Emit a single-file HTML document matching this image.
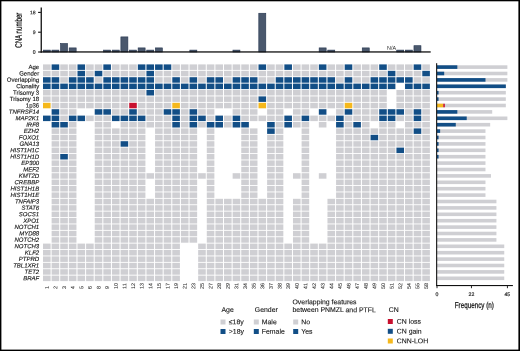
<!DOCTYPE html>
<html><head><meta charset="utf-8"><title>Figure</title>
<style>html,body{margin:0;padding:0;background:#fff;}body{width:520px;height:351px;position:relative;overflow:hidden;font-family:"Liberation Sans",sans-serif;}</style></head>
<body>
<svg width="520" height="351" viewBox="0 0 520 351" style="position:absolute;left:0;top:0;will-change:transform;text-rendering:geometricPrecision" font-family="Liberation Sans, sans-serif">
<rect x="0" y="0" width="520" height="351" fill="#fff"/>
<rect x="43.00" y="64.40" width="7.6" height="5.5" fill="#cfcfd3"/>
<rect x="51.62" y="64.40" width="7.6" height="5.5" fill="#124e86"/>
<rect x="60.24" y="64.40" width="7.6" height="5.5" fill="#cfcfd3"/>
<rect x="68.86" y="64.40" width="7.6" height="5.5" fill="#cfcfd3"/>
<rect x="77.48" y="64.40" width="7.6" height="5.5" fill="#124e86"/>
<rect x="86.10" y="64.40" width="7.6" height="5.5" fill="#cfcfd3"/>
<rect x="94.72" y="64.40" width="7.6" height="5.5" fill="#cfcfd3"/>
<rect x="103.34" y="64.40" width="7.6" height="5.5" fill="#124e86"/>
<rect x="111.96" y="64.40" width="7.6" height="5.5" fill="#cfcfd3"/>
<rect x="120.58" y="64.40" width="7.6" height="5.5" fill="#cfcfd3"/>
<rect x="129.20" y="64.40" width="7.6" height="5.5" fill="#cfcfd3"/>
<rect x="137.82" y="64.40" width="7.6" height="5.5" fill="#124e86"/>
<rect x="146.44" y="64.40" width="7.6" height="5.5" fill="#124e86"/>
<rect x="155.06" y="64.40" width="7.6" height="5.5" fill="#124e86"/>
<rect x="163.68" y="64.40" width="7.6" height="5.5" fill="#124e86"/>
<rect x="172.30" y="64.40" width="7.6" height="5.5" fill="#cfcfd3"/>
<rect x="180.92" y="64.40" width="7.6" height="5.5" fill="#cfcfd3"/>
<rect x="189.54" y="64.40" width="7.6" height="5.5" fill="#cfcfd3"/>
<rect x="198.16" y="64.40" width="7.6" height="5.5" fill="#cfcfd3"/>
<rect x="206.78" y="64.40" width="7.6" height="5.5" fill="#cfcfd3"/>
<rect x="215.40" y="64.40" width="7.6" height="5.5" fill="#cfcfd3"/>
<rect x="224.02" y="64.40" width="7.6" height="5.5" fill="#cfcfd3"/>
<rect x="232.64" y="64.40" width="7.6" height="5.5" fill="#cfcfd3"/>
<rect x="241.26" y="64.40" width="7.6" height="5.5" fill="#cfcfd3"/>
<rect x="249.88" y="64.40" width="7.6" height="5.5" fill="#cfcfd3"/>
<rect x="258.50" y="64.40" width="7.6" height="5.5" fill="#124e86"/>
<rect x="267.12" y="64.40" width="7.6" height="5.5" fill="#cfcfd3"/>
<rect x="275.74" y="64.40" width="7.6" height="5.5" fill="#cfcfd3"/>
<rect x="284.36" y="64.40" width="7.6" height="5.5" fill="#124e86"/>
<rect x="292.98" y="64.40" width="7.6" height="5.5" fill="#cfcfd3"/>
<rect x="301.60" y="64.40" width="7.6" height="5.5" fill="#cfcfd3"/>
<rect x="310.22" y="64.40" width="7.6" height="5.5" fill="#cfcfd3"/>
<rect x="318.84" y="64.40" width="7.6" height="5.5" fill="#124e86"/>
<rect x="327.46" y="64.40" width="7.6" height="5.5" fill="#cfcfd3"/>
<rect x="336.08" y="64.40" width="7.6" height="5.5" fill="#cfcfd3"/>
<rect x="344.70" y="64.40" width="7.6" height="5.5" fill="#124e86"/>
<rect x="353.32" y="64.40" width="7.6" height="5.5" fill="#cfcfd3"/>
<rect x="361.94" y="64.40" width="7.6" height="5.5" fill="#cfcfd3"/>
<rect x="370.56" y="64.40" width="7.6" height="5.5" fill="#cfcfd3"/>
<rect x="379.18" y="64.40" width="7.6" height="5.5" fill="#124e86"/>
<rect x="387.80" y="64.40" width="7.6" height="5.5" fill="#cfcfd3"/>
<rect x="396.42" y="64.40" width="7.6" height="5.5" fill="#cfcfd3"/>
<rect x="405.04" y="64.40" width="7.6" height="5.5" fill="#cfcfd3"/>
<rect x="413.66" y="64.40" width="7.6" height="5.5" fill="#124e86"/>
<rect x="422.28" y="64.40" width="7.6" height="5.5" fill="#cfcfd3"/>
<rect x="43.00" y="70.80" width="7.6" height="5.5" fill="#cfcfd3"/>
<rect x="51.62" y="70.80" width="7.6" height="5.5" fill="#cfcfd3"/>
<rect x="60.24" y="70.80" width="7.6" height="5.5" fill="#cfcfd3"/>
<rect x="68.86" y="70.80" width="7.6" height="5.5" fill="#cfcfd3"/>
<rect x="77.48" y="70.80" width="7.6" height="5.5" fill="#124e86"/>
<rect x="86.10" y="70.80" width="7.6" height="5.5" fill="#cfcfd3"/>
<rect x="94.72" y="70.80" width="7.6" height="5.5" fill="#124e86"/>
<rect x="103.34" y="70.80" width="7.6" height="5.5" fill="#cfcfd3"/>
<rect x="111.96" y="70.80" width="7.6" height="5.5" fill="#cfcfd3"/>
<rect x="120.58" y="70.80" width="7.6" height="5.5" fill="#cfcfd3"/>
<rect x="129.20" y="70.80" width="7.6" height="5.5" fill="#cfcfd3"/>
<rect x="137.82" y="70.80" width="7.6" height="5.5" fill="#cfcfd3"/>
<rect x="146.44" y="70.80" width="7.6" height="5.5" fill="#124e86"/>
<rect x="155.06" y="70.80" width="7.6" height="5.5" fill="#cfcfd3"/>
<rect x="163.68" y="70.80" width="7.6" height="5.5" fill="#cfcfd3"/>
<rect x="172.30" y="70.80" width="7.6" height="5.5" fill="#cfcfd3"/>
<rect x="180.92" y="70.80" width="7.6" height="5.5" fill="#cfcfd3"/>
<rect x="189.54" y="70.80" width="7.6" height="5.5" fill="#cfcfd3"/>
<rect x="198.16" y="70.80" width="7.6" height="5.5" fill="#cfcfd3"/>
<rect x="206.78" y="70.80" width="7.6" height="5.5" fill="#cfcfd3"/>
<rect x="215.40" y="70.80" width="7.6" height="5.5" fill="#cfcfd3"/>
<rect x="224.02" y="70.80" width="7.6" height="5.5" fill="#cfcfd3"/>
<rect x="232.64" y="70.80" width="7.6" height="5.5" fill="#cfcfd3"/>
<rect x="241.26" y="70.80" width="7.6" height="5.5" fill="#cfcfd3"/>
<rect x="249.88" y="70.80" width="7.6" height="5.5" fill="#cfcfd3"/>
<rect x="258.50" y="70.80" width="7.6" height="5.5" fill="#cfcfd3"/>
<rect x="267.12" y="70.80" width="7.6" height="5.5" fill="#cfcfd3"/>
<rect x="275.74" y="70.80" width="7.6" height="5.5" fill="#cfcfd3"/>
<rect x="284.36" y="70.80" width="7.6" height="5.5" fill="#cfcfd3"/>
<rect x="292.98" y="70.80" width="7.6" height="5.5" fill="#cfcfd3"/>
<rect x="301.60" y="70.80" width="7.6" height="5.5" fill="#cfcfd3"/>
<rect x="310.22" y="70.80" width="7.6" height="5.5" fill="#cfcfd3"/>
<rect x="318.84" y="70.80" width="7.6" height="5.5" fill="#cfcfd3"/>
<rect x="327.46" y="70.80" width="7.6" height="5.5" fill="#cfcfd3"/>
<rect x="336.08" y="70.80" width="7.6" height="5.5" fill="#cfcfd3"/>
<rect x="344.70" y="70.80" width="7.6" height="5.5" fill="#cfcfd3"/>
<rect x="353.32" y="70.80" width="7.6" height="5.5" fill="#cfcfd3"/>
<rect x="361.94" y="70.80" width="7.6" height="5.5" fill="#cfcfd3"/>
<rect x="370.56" y="70.80" width="7.6" height="5.5" fill="#cfcfd3"/>
<rect x="379.18" y="70.80" width="7.6" height="5.5" fill="#cfcfd3"/>
<rect x="387.80" y="70.80" width="7.6" height="5.5" fill="#124e86"/>
<rect x="396.42" y="70.80" width="7.6" height="5.5" fill="#cfcfd3"/>
<rect x="405.04" y="70.80" width="7.6" height="5.5" fill="#cfcfd3"/>
<rect x="413.66" y="70.80" width="7.6" height="5.5" fill="#cfcfd3"/>
<rect x="422.28" y="70.80" width="7.6" height="5.5" fill="#124e86"/>
<rect x="43.00" y="77.20" width="7.6" height="5.5" fill="#124e86"/>
<rect x="51.62" y="77.20" width="7.6" height="5.5" fill="#124e86"/>
<rect x="60.24" y="77.20" width="7.6" height="5.5" fill="#cfcfd3"/>
<rect x="68.86" y="77.20" width="7.6" height="5.5" fill="#124e86"/>
<rect x="77.48" y="77.20" width="7.6" height="5.5" fill="#124e86"/>
<rect x="86.10" y="77.20" width="7.6" height="5.5" fill="#124e86"/>
<rect x="94.72" y="77.20" width="7.6" height="5.5" fill="#cfcfd3"/>
<rect x="103.34" y="77.20" width="7.6" height="5.5" fill="#124e86"/>
<rect x="111.96" y="77.20" width="7.6" height="5.5" fill="#124e86"/>
<rect x="120.58" y="77.20" width="7.6" height="5.5" fill="#124e86"/>
<rect x="129.20" y="77.20" width="7.6" height="5.5" fill="#124e86"/>
<rect x="137.82" y="77.20" width="7.6" height="5.5" fill="#124e86"/>
<rect x="146.44" y="77.20" width="7.6" height="5.5" fill="#124e86"/>
<rect x="155.06" y="77.20" width="7.6" height="5.5" fill="#cfcfd3"/>
<rect x="163.68" y="77.20" width="7.6" height="5.5" fill="#cfcfd3"/>
<rect x="172.30" y="77.20" width="7.6" height="5.5" fill="#124e86"/>
<rect x="180.92" y="77.20" width="7.6" height="5.5" fill="#cfcfd3"/>
<rect x="189.54" y="77.20" width="7.6" height="5.5" fill="#124e86"/>
<rect x="198.16" y="77.20" width="7.6" height="5.5" fill="#cfcfd3"/>
<rect x="206.78" y="77.20" width="7.6" height="5.5" fill="#124e86"/>
<rect x="215.40" y="77.20" width="7.6" height="5.5" fill="#124e86"/>
<rect x="224.02" y="77.20" width="7.6" height="5.5" fill="#cfcfd3"/>
<rect x="232.64" y="77.20" width="7.6" height="5.5" fill="#124e86"/>
<rect x="241.26" y="77.20" width="7.6" height="5.5" fill="#124e86"/>
<rect x="249.88" y="77.20" width="7.6" height="5.5" fill="#124e86"/>
<rect x="258.50" y="77.20" width="7.6" height="5.5" fill="#cfcfd3"/>
<rect x="267.12" y="77.20" width="7.6" height="5.5" fill="#cfcfd3"/>
<rect x="275.74" y="77.20" width="7.6" height="5.5" fill="#124e86"/>
<rect x="284.36" y="77.20" width="7.6" height="5.5" fill="#124e86"/>
<rect x="292.98" y="77.20" width="7.6" height="5.5" fill="#124e86"/>
<rect x="301.60" y="77.20" width="7.6" height="5.5" fill="#124e86"/>
<rect x="310.22" y="77.20" width="7.6" height="5.5" fill="#124e86"/>
<rect x="318.84" y="77.20" width="7.6" height="5.5" fill="#124e86"/>
<rect x="327.46" y="77.20" width="7.6" height="5.5" fill="#124e86"/>
<rect x="336.08" y="77.20" width="7.6" height="5.5" fill="#cfcfd3"/>
<rect x="344.70" y="77.20" width="7.6" height="5.5" fill="#124e86"/>
<rect x="353.32" y="77.20" width="7.6" height="5.5" fill="#cfcfd3"/>
<rect x="361.94" y="77.20" width="7.6" height="5.5" fill="#cfcfd3"/>
<rect x="370.56" y="77.20" width="7.6" height="5.5" fill="#124e86"/>
<rect x="379.18" y="77.20" width="7.6" height="5.5" fill="#124e86"/>
<rect x="387.80" y="77.20" width="7.6" height="5.5" fill="#124e86"/>
<rect x="396.42" y="77.20" width="7.6" height="5.5" fill="#124e86"/>
<rect x="405.04" y="77.20" width="7.6" height="5.5" fill="#124e86"/>
<rect x="413.66" y="77.20" width="7.6" height="5.5" fill="#cfcfd3"/>
<rect x="422.28" y="77.20" width="7.6" height="5.5" fill="#cfcfd3"/>
<rect x="43.00" y="83.60" width="7.6" height="5.5" fill="#124e86"/>
<rect x="51.62" y="83.60" width="7.6" height="5.5" fill="#124e86"/>
<rect x="60.24" y="83.60" width="7.6" height="5.5" fill="#124e86"/>
<rect x="68.86" y="83.60" width="7.6" height="5.5" fill="#124e86"/>
<rect x="77.48" y="83.60" width="7.6" height="5.5" fill="#124e86"/>
<rect x="86.10" y="83.60" width="7.6" height="5.5" fill="#124e86"/>
<rect x="94.72" y="83.60" width="7.6" height="5.5" fill="#124e86"/>
<rect x="103.34" y="83.60" width="7.6" height="5.5" fill="#124e86"/>
<rect x="111.96" y="83.60" width="7.6" height="5.5" fill="#124e86"/>
<rect x="120.58" y="83.60" width="7.6" height="5.5" fill="#124e86"/>
<rect x="129.20" y="83.60" width="7.6" height="5.5" fill="#124e86"/>
<rect x="137.82" y="83.60" width="7.6" height="5.5" fill="#124e86"/>
<rect x="146.44" y="83.60" width="7.6" height="5.5" fill="#124e86"/>
<rect x="155.06" y="83.60" width="7.6" height="5.5" fill="#124e86"/>
<rect x="163.68" y="83.60" width="7.6" height="5.5" fill="#124e86"/>
<rect x="172.30" y="83.60" width="7.6" height="5.5" fill="#124e86"/>
<rect x="180.92" y="83.60" width="7.6" height="5.5" fill="#124e86"/>
<rect x="189.54" y="83.60" width="7.6" height="5.5" fill="#124e86"/>
<rect x="198.16" y="83.60" width="7.6" height="5.5" fill="#124e86"/>
<rect x="206.78" y="83.60" width="7.6" height="5.5" fill="#124e86"/>
<rect x="215.40" y="83.60" width="7.6" height="5.5" fill="#124e86"/>
<rect x="224.02" y="83.60" width="7.6" height="5.5" fill="#124e86"/>
<rect x="232.64" y="83.60" width="7.6" height="5.5" fill="#124e86"/>
<rect x="241.26" y="83.60" width="7.6" height="5.5" fill="#124e86"/>
<rect x="249.88" y="83.60" width="7.6" height="5.5" fill="#124e86"/>
<rect x="258.50" y="83.60" width="7.6" height="5.5" fill="#124e86"/>
<rect x="267.12" y="83.60" width="7.6" height="5.5" fill="#124e86"/>
<rect x="275.74" y="83.60" width="7.6" height="5.5" fill="#124e86"/>
<rect x="284.36" y="83.60" width="7.6" height="5.5" fill="#124e86"/>
<rect x="292.98" y="83.60" width="7.6" height="5.5" fill="#124e86"/>
<rect x="301.60" y="83.60" width="7.6" height="5.5" fill="#124e86"/>
<rect x="310.22" y="83.60" width="7.6" height="5.5" fill="#124e86"/>
<rect x="318.84" y="83.60" width="7.6" height="5.5" fill="#124e86"/>
<rect x="327.46" y="83.60" width="7.6" height="5.5" fill="#124e86"/>
<rect x="336.08" y="83.60" width="7.6" height="5.5" fill="#124e86"/>
<rect x="344.70" y="83.60" width="7.6" height="5.5" fill="#124e86"/>
<rect x="353.32" y="83.60" width="7.6" height="5.5" fill="#124e86"/>
<rect x="361.94" y="83.60" width="7.6" height="5.5" fill="#124e86"/>
<rect x="370.56" y="83.60" width="7.6" height="5.5" fill="#124e86"/>
<rect x="379.18" y="83.60" width="7.6" height="5.5" fill="#124e86"/>
<rect x="387.80" y="83.60" width="7.6" height="5.5" fill="#124e86"/>
<rect x="405.04" y="83.60" width="7.6" height="5.5" fill="#124e86"/>
<rect x="413.66" y="83.60" width="7.6" height="5.5" fill="#124e86"/>
<rect x="422.28" y="83.60" width="7.6" height="5.5" fill="#124e86"/>
<rect x="43.00" y="90.00" width="7.6" height="5.5" fill="#cfcfd3"/>
<rect x="51.62" y="90.00" width="7.6" height="5.5" fill="#cfcfd3"/>
<rect x="60.24" y="90.00" width="7.6" height="5.5" fill="#cfcfd3"/>
<rect x="68.86" y="90.00" width="7.6" height="5.5" fill="#cfcfd3"/>
<rect x="77.48" y="90.00" width="7.6" height="5.5" fill="#cfcfd3"/>
<rect x="86.10" y="90.00" width="7.6" height="5.5" fill="#cfcfd3"/>
<rect x="94.72" y="90.00" width="7.6" height="5.5" fill="#cfcfd3"/>
<rect x="103.34" y="90.00" width="7.6" height="5.5" fill="#cfcfd3"/>
<rect x="111.96" y="90.00" width="7.6" height="5.5" fill="#cfcfd3"/>
<rect x="120.58" y="90.00" width="7.6" height="5.5" fill="#cfcfd3"/>
<rect x="129.20" y="90.00" width="7.6" height="5.5" fill="#cfcfd3"/>
<rect x="137.82" y="90.00" width="7.6" height="5.5" fill="#cfcfd3"/>
<rect x="146.44" y="90.00" width="7.6" height="5.5" fill="#124e86"/>
<rect x="155.06" y="90.00" width="7.6" height="5.5" fill="#cfcfd3"/>
<rect x="163.68" y="90.00" width="7.6" height="5.5" fill="#cfcfd3"/>
<rect x="172.30" y="90.00" width="7.6" height="5.5" fill="#cfcfd3"/>
<rect x="180.92" y="90.00" width="7.6" height="5.5" fill="#cfcfd3"/>
<rect x="189.54" y="90.00" width="7.6" height="5.5" fill="#cfcfd3"/>
<rect x="198.16" y="90.00" width="7.6" height="5.5" fill="#cfcfd3"/>
<rect x="206.78" y="90.00" width="7.6" height="5.5" fill="#cfcfd3"/>
<rect x="215.40" y="90.00" width="7.6" height="5.5" fill="#cfcfd3"/>
<rect x="224.02" y="90.00" width="7.6" height="5.5" fill="#cfcfd3"/>
<rect x="232.64" y="90.00" width="7.6" height="5.5" fill="#cfcfd3"/>
<rect x="241.26" y="90.00" width="7.6" height="5.5" fill="#cfcfd3"/>
<rect x="249.88" y="90.00" width="7.6" height="5.5" fill="#cfcfd3"/>
<rect x="258.50" y="90.00" width="7.6" height="5.5" fill="#cfcfd3"/>
<rect x="267.12" y="90.00" width="7.6" height="5.5" fill="#cfcfd3"/>
<rect x="275.74" y="90.00" width="7.6" height="5.5" fill="#cfcfd3"/>
<rect x="284.36" y="90.00" width="7.6" height="5.5" fill="#cfcfd3"/>
<rect x="292.98" y="90.00" width="7.6" height="5.5" fill="#cfcfd3"/>
<rect x="301.60" y="90.00" width="7.6" height="5.5" fill="#cfcfd3"/>
<rect x="310.22" y="90.00" width="7.6" height="5.5" fill="#cfcfd3"/>
<rect x="318.84" y="90.00" width="7.6" height="5.5" fill="#cfcfd3"/>
<rect x="327.46" y="90.00" width="7.6" height="5.5" fill="#cfcfd3"/>
<rect x="336.08" y="90.00" width="7.6" height="5.5" fill="#cfcfd3"/>
<rect x="344.70" y="90.00" width="7.6" height="5.5" fill="#cfcfd3"/>
<rect x="353.32" y="90.00" width="7.6" height="5.5" fill="#cfcfd3"/>
<rect x="361.94" y="90.00" width="7.6" height="5.5" fill="#cfcfd3"/>
<rect x="370.56" y="90.00" width="7.6" height="5.5" fill="#cfcfd3"/>
<rect x="379.18" y="90.00" width="7.6" height="5.5" fill="#cfcfd3"/>
<rect x="396.42" y="90.00" width="7.6" height="5.5" fill="#cfcfd3"/>
<rect x="405.04" y="90.00" width="7.6" height="5.5" fill="#cfcfd3"/>
<rect x="413.66" y="90.00" width="7.6" height="5.5" fill="#cfcfd3"/>
<rect x="422.28" y="90.00" width="7.6" height="5.5" fill="#cfcfd3"/>
<rect x="43.00" y="96.40" width="7.6" height="5.5" fill="#cfcfd3"/>
<rect x="51.62" y="96.40" width="7.6" height="5.5" fill="#cfcfd3"/>
<rect x="60.24" y="96.40" width="7.6" height="5.5" fill="#cfcfd3"/>
<rect x="68.86" y="96.40" width="7.6" height="5.5" fill="#cfcfd3"/>
<rect x="77.48" y="96.40" width="7.6" height="5.5" fill="#cfcfd3"/>
<rect x="86.10" y="96.40" width="7.6" height="5.5" fill="#cfcfd3"/>
<rect x="94.72" y="96.40" width="7.6" height="5.5" fill="#cfcfd3"/>
<rect x="103.34" y="96.40" width="7.6" height="5.5" fill="#cfcfd3"/>
<rect x="111.96" y="96.40" width="7.6" height="5.5" fill="#cfcfd3"/>
<rect x="120.58" y="96.40" width="7.6" height="5.5" fill="#cfcfd3"/>
<rect x="129.20" y="96.40" width="7.6" height="5.5" fill="#cfcfd3"/>
<rect x="137.82" y="96.40" width="7.6" height="5.5" fill="#cfcfd3"/>
<rect x="146.44" y="96.40" width="7.6" height="5.5" fill="#cfcfd3"/>
<rect x="155.06" y="96.40" width="7.6" height="5.5" fill="#cfcfd3"/>
<rect x="163.68" y="96.40" width="7.6" height="5.5" fill="#cfcfd3"/>
<rect x="172.30" y="96.40" width="7.6" height="5.5" fill="#cfcfd3"/>
<rect x="180.92" y="96.40" width="7.6" height="5.5" fill="#cfcfd3"/>
<rect x="189.54" y="96.40" width="7.6" height="5.5" fill="#cfcfd3"/>
<rect x="198.16" y="96.40" width="7.6" height="5.5" fill="#cfcfd3"/>
<rect x="206.78" y="96.40" width="7.6" height="5.5" fill="#cfcfd3"/>
<rect x="215.40" y="96.40" width="7.6" height="5.5" fill="#cfcfd3"/>
<rect x="224.02" y="96.40" width="7.6" height="5.5" fill="#cfcfd3"/>
<rect x="232.64" y="96.40" width="7.6" height="5.5" fill="#cfcfd3"/>
<rect x="241.26" y="96.40" width="7.6" height="5.5" fill="#cfcfd3"/>
<rect x="249.88" y="96.40" width="7.6" height="5.5" fill="#cfcfd3"/>
<rect x="258.50" y="96.40" width="7.6" height="5.5" fill="#124e86"/>
<rect x="267.12" y="96.40" width="7.6" height="5.5" fill="#cfcfd3"/>
<rect x="275.74" y="96.40" width="7.6" height="5.5" fill="#cfcfd3"/>
<rect x="284.36" y="96.40" width="7.6" height="5.5" fill="#cfcfd3"/>
<rect x="292.98" y="96.40" width="7.6" height="5.5" fill="#cfcfd3"/>
<rect x="301.60" y="96.40" width="7.6" height="5.5" fill="#cfcfd3"/>
<rect x="310.22" y="96.40" width="7.6" height="5.5" fill="#cfcfd3"/>
<rect x="318.84" y="96.40" width="7.6" height="5.5" fill="#cfcfd3"/>
<rect x="327.46" y="96.40" width="7.6" height="5.5" fill="#cfcfd3"/>
<rect x="336.08" y="96.40" width="7.6" height="5.5" fill="#cfcfd3"/>
<rect x="344.70" y="96.40" width="7.6" height="5.5" fill="#cfcfd3"/>
<rect x="353.32" y="96.40" width="7.6" height="5.5" fill="#cfcfd3"/>
<rect x="361.94" y="96.40" width="7.6" height="5.5" fill="#cfcfd3"/>
<rect x="370.56" y="96.40" width="7.6" height="5.5" fill="#cfcfd3"/>
<rect x="379.18" y="96.40" width="7.6" height="5.5" fill="#cfcfd3"/>
<rect x="396.42" y="96.40" width="7.6" height="5.5" fill="#cfcfd3"/>
<rect x="405.04" y="96.40" width="7.6" height="5.5" fill="#cfcfd3"/>
<rect x="413.66" y="96.40" width="7.6" height="5.5" fill="#cfcfd3"/>
<rect x="422.28" y="96.40" width="7.6" height="5.5" fill="#cfcfd3"/>
<rect x="43.00" y="102.80" width="7.6" height="5.5" fill="#f5b81c"/>
<rect x="51.62" y="102.80" width="7.6" height="5.5" fill="#cfcfd3"/>
<rect x="60.24" y="102.80" width="7.6" height="5.5" fill="#cfcfd3"/>
<rect x="68.86" y="102.80" width="7.6" height="5.5" fill="#cfcfd3"/>
<rect x="77.48" y="102.80" width="7.6" height="5.5" fill="#cfcfd3"/>
<rect x="86.10" y="102.80" width="7.6" height="5.5" fill="#cfcfd3"/>
<rect x="94.72" y="102.80" width="7.6" height="5.5" fill="#cfcfd3"/>
<rect x="103.34" y="102.80" width="7.6" height="5.5" fill="#cfcfd3"/>
<rect x="111.96" y="102.80" width="7.6" height="5.5" fill="#cfcfd3"/>
<rect x="120.58" y="102.80" width="7.6" height="5.5" fill="#cfcfd3"/>
<rect x="129.20" y="102.80" width="7.6" height="5.5" fill="#c8102e"/>
<rect x="137.82" y="102.80" width="7.6" height="5.5" fill="#cfcfd3"/>
<rect x="146.44" y="102.80" width="7.6" height="5.5" fill="#cfcfd3"/>
<rect x="155.06" y="102.80" width="7.6" height="5.5" fill="#cfcfd3"/>
<rect x="163.68" y="102.80" width="7.6" height="5.5" fill="#cfcfd3"/>
<rect x="172.30" y="102.80" width="7.6" height="5.5" fill="#f5b81c"/>
<rect x="180.92" y="102.80" width="7.6" height="5.5" fill="#cfcfd3"/>
<rect x="189.54" y="102.80" width="7.6" height="5.5" fill="#cfcfd3"/>
<rect x="198.16" y="102.80" width="7.6" height="5.5" fill="#cfcfd3"/>
<rect x="206.78" y="102.80" width="7.6" height="5.5" fill="#cfcfd3"/>
<rect x="215.40" y="102.80" width="7.6" height="5.5" fill="#cfcfd3"/>
<rect x="224.02" y="102.80" width="7.6" height="5.5" fill="#cfcfd3"/>
<rect x="232.64" y="102.80" width="7.6" height="5.5" fill="#cfcfd3"/>
<rect x="241.26" y="102.80" width="7.6" height="5.5" fill="#cfcfd3"/>
<rect x="249.88" y="102.80" width="7.6" height="5.5" fill="#cfcfd3"/>
<rect x="258.50" y="102.80" width="7.6" height="5.5" fill="#f5b81c"/>
<rect x="267.12" y="102.80" width="7.6" height="5.5" fill="#cfcfd3"/>
<rect x="275.74" y="102.80" width="7.6" height="5.5" fill="#cfcfd3"/>
<rect x="284.36" y="102.80" width="7.6" height="5.5" fill="#cfcfd3"/>
<rect x="292.98" y="102.80" width="7.6" height="5.5" fill="#cfcfd3"/>
<rect x="301.60" y="102.80" width="7.6" height="5.5" fill="#cfcfd3"/>
<rect x="310.22" y="102.80" width="7.6" height="5.5" fill="#cfcfd3"/>
<rect x="318.84" y="102.80" width="7.6" height="5.5" fill="#cfcfd3"/>
<rect x="327.46" y="102.80" width="7.6" height="5.5" fill="#cfcfd3"/>
<rect x="336.08" y="102.80" width="7.6" height="5.5" fill="#cfcfd3"/>
<rect x="344.70" y="102.80" width="7.6" height="5.5" fill="#f5b81c"/>
<rect x="353.32" y="102.80" width="7.6" height="5.5" fill="#cfcfd3"/>
<rect x="361.94" y="102.80" width="7.6" height="5.5" fill="#cfcfd3"/>
<rect x="370.56" y="102.80" width="7.6" height="5.5" fill="#cfcfd3"/>
<rect x="379.18" y="102.80" width="7.6" height="5.5" fill="#cfcfd3"/>
<rect x="396.42" y="102.80" width="7.6" height="5.5" fill="#cfcfd3"/>
<rect x="405.04" y="102.80" width="7.6" height="5.5" fill="#cfcfd3"/>
<rect x="413.66" y="102.80" width="7.6" height="5.5" fill="#cfcfd3"/>
<rect x="422.28" y="102.80" width="7.6" height="5.5" fill="#cfcfd3"/>
<rect x="51.62" y="109.20" width="7.6" height="5.5" fill="#124e86"/>
<rect x="60.24" y="109.20" width="7.6" height="5.5" fill="#cfcfd3"/>
<rect x="68.86" y="109.20" width="7.6" height="5.5" fill="#cfcfd3"/>
<rect x="94.72" y="109.20" width="7.6" height="5.5" fill="#124e86"/>
<rect x="103.34" y="109.20" width="7.6" height="5.5" fill="#124e86"/>
<rect x="111.96" y="109.20" width="7.6" height="5.5" fill="#cfcfd3"/>
<rect x="120.58" y="109.20" width="7.6" height="5.5" fill="#cfcfd3"/>
<rect x="129.20" y="109.20" width="7.6" height="5.5" fill="#124e86"/>
<rect x="137.82" y="109.20" width="7.6" height="5.5" fill="#cfcfd3"/>
<rect x="146.44" y="109.20" width="7.6" height="5.5" fill="#cfcfd3"/>
<rect x="155.06" y="109.20" width="7.6" height="5.5" fill="#cfcfd3"/>
<rect x="163.68" y="109.20" width="7.6" height="5.5" fill="#124e86"/>
<rect x="172.30" y="109.20" width="7.6" height="5.5" fill="#124e86"/>
<rect x="180.92" y="109.20" width="7.6" height="5.5" fill="#cfcfd3"/>
<rect x="189.54" y="109.20" width="7.6" height="5.5" fill="#124e86"/>
<rect x="198.16" y="109.20" width="7.6" height="5.5" fill="#cfcfd3"/>
<rect x="206.78" y="109.20" width="7.6" height="5.5" fill="#cfcfd3"/>
<rect x="232.64" y="109.20" width="7.6" height="5.5" fill="#cfcfd3"/>
<rect x="241.26" y="109.20" width="7.6" height="5.5" fill="#cfcfd3"/>
<rect x="249.88" y="109.20" width="7.6" height="5.5" fill="#cfcfd3"/>
<rect x="267.12" y="109.20" width="7.6" height="5.5" fill="#cfcfd3"/>
<rect x="275.74" y="109.20" width="7.6" height="5.5" fill="#cfcfd3"/>
<rect x="292.98" y="109.20" width="7.6" height="5.5" fill="#cfcfd3"/>
<rect x="301.60" y="109.20" width="7.6" height="5.5" fill="#cfcfd3"/>
<rect x="318.84" y="109.20" width="7.6" height="5.5" fill="#124e86"/>
<rect x="336.08" y="109.20" width="7.6" height="5.5" fill="#cfcfd3"/>
<rect x="344.70" y="109.20" width="7.6" height="5.5" fill="#124e86"/>
<rect x="353.32" y="109.20" width="7.6" height="5.5" fill="#cfcfd3"/>
<rect x="361.94" y="109.20" width="7.6" height="5.5" fill="#cfcfd3"/>
<rect x="370.56" y="109.20" width="7.6" height="5.5" fill="#cfcfd3"/>
<rect x="379.18" y="109.20" width="7.6" height="5.5" fill="#124e86"/>
<rect x="387.80" y="109.20" width="7.6" height="5.5" fill="#124e86"/>
<rect x="396.42" y="109.20" width="7.6" height="5.5" fill="#124e86"/>
<rect x="405.04" y="109.20" width="7.6" height="5.5" fill="#cfcfd3"/>
<rect x="413.66" y="109.20" width="7.6" height="5.5" fill="#124e86"/>
<rect x="422.28" y="109.20" width="7.6" height="5.5" fill="#cfcfd3"/>
<rect x="43.00" y="115.60" width="7.6" height="5.5" fill="#124e86"/>
<rect x="51.62" y="115.60" width="7.6" height="5.5" fill="#124e86"/>
<rect x="60.24" y="115.60" width="7.6" height="5.5" fill="#cfcfd3"/>
<rect x="68.86" y="115.60" width="7.6" height="5.5" fill="#124e86"/>
<rect x="77.48" y="115.60" width="7.6" height="5.5" fill="#124e86"/>
<rect x="86.10" y="115.60" width="7.6" height="5.5" fill="#cfcfd3"/>
<rect x="94.72" y="115.60" width="7.6" height="5.5" fill="#cfcfd3"/>
<rect x="103.34" y="115.60" width="7.6" height="5.5" fill="#cfcfd3"/>
<rect x="111.96" y="115.60" width="7.6" height="5.5" fill="#124e86"/>
<rect x="120.58" y="115.60" width="7.6" height="5.5" fill="#124e86"/>
<rect x="129.20" y="115.60" width="7.6" height="5.5" fill="#124e86"/>
<rect x="137.82" y="115.60" width="7.6" height="5.5" fill="#124e86"/>
<rect x="146.44" y="115.60" width="7.6" height="5.5" fill="#cfcfd3"/>
<rect x="155.06" y="115.60" width="7.6" height="5.5" fill="#cfcfd3"/>
<rect x="163.68" y="115.60" width="7.6" height="5.5" fill="#cfcfd3"/>
<rect x="172.30" y="115.60" width="7.6" height="5.5" fill="#124e86"/>
<rect x="180.92" y="115.60" width="7.6" height="5.5" fill="#cfcfd3"/>
<rect x="189.54" y="115.60" width="7.6" height="5.5" fill="#124e86"/>
<rect x="198.16" y="115.60" width="7.6" height="5.5" fill="#124e86"/>
<rect x="206.78" y="115.60" width="7.6" height="5.5" fill="#cfcfd3"/>
<rect x="215.40" y="115.60" width="7.6" height="5.5" fill="#124e86"/>
<rect x="224.02" y="115.60" width="7.6" height="5.5" fill="#cfcfd3"/>
<rect x="232.64" y="115.60" width="7.6" height="5.5" fill="#124e86"/>
<rect x="241.26" y="115.60" width="7.6" height="5.5" fill="#cfcfd3"/>
<rect x="249.88" y="115.60" width="7.6" height="5.5" fill="#cfcfd3"/>
<rect x="258.50" y="115.60" width="7.6" height="5.5" fill="#cfcfd3"/>
<rect x="267.12" y="115.60" width="7.6" height="5.5" fill="#cfcfd3"/>
<rect x="275.74" y="115.60" width="7.6" height="5.5" fill="#cfcfd3"/>
<rect x="284.36" y="115.60" width="7.6" height="5.5" fill="#124e86"/>
<rect x="292.98" y="115.60" width="7.6" height="5.5" fill="#cfcfd3"/>
<rect x="301.60" y="115.60" width="7.6" height="5.5" fill="#124e86"/>
<rect x="310.22" y="115.60" width="7.6" height="5.5" fill="#cfcfd3"/>
<rect x="318.84" y="115.60" width="7.6" height="5.5" fill="#cfcfd3"/>
<rect x="327.46" y="115.60" width="7.6" height="5.5" fill="#cfcfd3"/>
<rect x="336.08" y="115.60" width="7.6" height="5.5" fill="#124e86"/>
<rect x="344.70" y="115.60" width="7.6" height="5.5" fill="#cfcfd3"/>
<rect x="353.32" y="115.60" width="7.6" height="5.5" fill="#cfcfd3"/>
<rect x="361.94" y="115.60" width="7.6" height="5.5" fill="#cfcfd3"/>
<rect x="370.56" y="115.60" width="7.6" height="5.5" fill="#cfcfd3"/>
<rect x="379.18" y="115.60" width="7.6" height="5.5" fill="#124e86"/>
<rect x="387.80" y="115.60" width="7.6" height="5.5" fill="#124e86"/>
<rect x="396.42" y="115.60" width="7.6" height="5.5" fill="#cfcfd3"/>
<rect x="405.04" y="115.60" width="7.6" height="5.5" fill="#cfcfd3"/>
<rect x="413.66" y="115.60" width="7.6" height="5.5" fill="#124e86"/>
<rect x="422.28" y="115.60" width="7.6" height="5.5" fill="#cfcfd3"/>
<rect x="51.62" y="122.00" width="7.6" height="5.5" fill="#124e86"/>
<rect x="60.24" y="122.00" width="7.6" height="5.5" fill="#124e86"/>
<rect x="68.86" y="122.00" width="7.6" height="5.5" fill="#cfcfd3"/>
<rect x="94.72" y="122.00" width="7.6" height="5.5" fill="#cfcfd3"/>
<rect x="103.34" y="122.00" width="7.6" height="5.5" fill="#cfcfd3"/>
<rect x="120.58" y="122.00" width="7.6" height="5.5" fill="#cfcfd3"/>
<rect x="129.20" y="122.00" width="7.6" height="5.5" fill="#cfcfd3"/>
<rect x="137.82" y="122.00" width="7.6" height="5.5" fill="#cfcfd3"/>
<rect x="146.44" y="122.00" width="7.6" height="5.5" fill="#cfcfd3"/>
<rect x="155.06" y="122.00" width="7.6" height="5.5" fill="#cfcfd3"/>
<rect x="163.68" y="122.00" width="7.6" height="5.5" fill="#cfcfd3"/>
<rect x="172.30" y="122.00" width="7.6" height="5.5" fill="#124e86"/>
<rect x="180.92" y="122.00" width="7.6" height="5.5" fill="#cfcfd3"/>
<rect x="189.54" y="122.00" width="7.6" height="5.5" fill="#124e86"/>
<rect x="198.16" y="122.00" width="7.6" height="5.5" fill="#cfcfd3"/>
<rect x="206.78" y="122.00" width="7.6" height="5.5" fill="#124e86"/>
<rect x="215.40" y="122.00" width="7.6" height="5.5" fill="#124e86"/>
<rect x="224.02" y="122.00" width="7.6" height="5.5" fill="#cfcfd3"/>
<rect x="232.64" y="122.00" width="7.6" height="5.5" fill="#124e86"/>
<rect x="241.26" y="122.00" width="7.6" height="5.5" fill="#124e86"/>
<rect x="267.12" y="122.00" width="7.6" height="5.5" fill="#124e86"/>
<rect x="275.74" y="122.00" width="7.6" height="5.5" fill="#cfcfd3"/>
<rect x="284.36" y="122.00" width="7.6" height="5.5" fill="#124e86"/>
<rect x="292.98" y="122.00" width="7.6" height="5.5" fill="#cfcfd3"/>
<rect x="301.60" y="122.00" width="7.6" height="5.5" fill="#cfcfd3"/>
<rect x="318.84" y="122.00" width="7.6" height="5.5" fill="#cfcfd3"/>
<rect x="336.08" y="122.00" width="7.6" height="5.5" fill="#124e86"/>
<rect x="344.70" y="122.00" width="7.6" height="5.5" fill="#cfcfd3"/>
<rect x="353.32" y="122.00" width="7.6" height="5.5" fill="#124e86"/>
<rect x="361.94" y="122.00" width="7.6" height="5.5" fill="#cfcfd3"/>
<rect x="379.18" y="122.00" width="7.6" height="5.5" fill="#cfcfd3"/>
<rect x="387.80" y="122.00" width="7.6" height="5.5" fill="#cfcfd3"/>
<rect x="405.04" y="122.00" width="7.6" height="5.5" fill="#cfcfd3"/>
<rect x="413.66" y="122.00" width="7.6" height="5.5" fill="#cfcfd3"/>
<rect x="422.28" y="122.00" width="7.6" height="5.5" fill="#cfcfd3"/>
<rect x="51.62" y="128.40" width="7.6" height="5.5" fill="#cfcfd3"/>
<rect x="60.24" y="128.40" width="7.6" height="5.5" fill="#cfcfd3"/>
<rect x="68.86" y="128.40" width="7.6" height="5.5" fill="#cfcfd3"/>
<rect x="94.72" y="128.40" width="7.6" height="5.5" fill="#cfcfd3"/>
<rect x="103.34" y="128.40" width="7.6" height="5.5" fill="#cfcfd3"/>
<rect x="111.96" y="128.40" width="7.6" height="5.5" fill="#cfcfd3"/>
<rect x="120.58" y="128.40" width="7.6" height="5.5" fill="#cfcfd3"/>
<rect x="129.20" y="128.40" width="7.6" height="5.5" fill="#cfcfd3"/>
<rect x="137.82" y="128.40" width="7.6" height="5.5" fill="#cfcfd3"/>
<rect x="155.06" y="128.40" width="7.6" height="5.5" fill="#cfcfd3"/>
<rect x="163.68" y="128.40" width="7.6" height="5.5" fill="#cfcfd3"/>
<rect x="172.30" y="128.40" width="7.6" height="5.5" fill="#cfcfd3"/>
<rect x="180.92" y="128.40" width="7.6" height="5.5" fill="#cfcfd3"/>
<rect x="189.54" y="128.40" width="7.6" height="5.5" fill="#cfcfd3"/>
<rect x="206.78" y="128.40" width="7.6" height="5.5" fill="#cfcfd3"/>
<rect x="241.26" y="128.40" width="7.6" height="5.5" fill="#cfcfd3"/>
<rect x="249.88" y="128.40" width="7.6" height="5.5" fill="#cfcfd3"/>
<rect x="267.12" y="128.40" width="7.6" height="5.5" fill="#124e86"/>
<rect x="275.74" y="128.40" width="7.6" height="5.5" fill="#cfcfd3"/>
<rect x="301.60" y="128.40" width="7.6" height="5.5" fill="#cfcfd3"/>
<rect x="336.08" y="128.40" width="7.6" height="5.5" fill="#cfcfd3"/>
<rect x="344.70" y="128.40" width="7.6" height="5.5" fill="#cfcfd3"/>
<rect x="353.32" y="128.40" width="7.6" height="5.5" fill="#cfcfd3"/>
<rect x="361.94" y="128.40" width="7.6" height="5.5" fill="#cfcfd3"/>
<rect x="370.56" y="128.40" width="7.6" height="5.5" fill="#cfcfd3"/>
<rect x="379.18" y="128.40" width="7.6" height="5.5" fill="#cfcfd3"/>
<rect x="387.80" y="128.40" width="7.6" height="5.5" fill="#cfcfd3"/>
<rect x="396.42" y="128.40" width="7.6" height="5.5" fill="#cfcfd3"/>
<rect x="405.04" y="128.40" width="7.6" height="5.5" fill="#cfcfd3"/>
<rect x="413.66" y="128.40" width="7.6" height="5.5" fill="#124e86"/>
<rect x="422.28" y="128.40" width="7.6" height="5.5" fill="#cfcfd3"/>
<rect x="51.62" y="134.80" width="7.6" height="5.5" fill="#cfcfd3"/>
<rect x="60.24" y="134.80" width="7.6" height="5.5" fill="#cfcfd3"/>
<rect x="68.86" y="134.80" width="7.6" height="5.5" fill="#cfcfd3"/>
<rect x="94.72" y="134.80" width="7.6" height="5.5" fill="#cfcfd3"/>
<rect x="103.34" y="134.80" width="7.6" height="5.5" fill="#cfcfd3"/>
<rect x="111.96" y="134.80" width="7.6" height="5.5" fill="#cfcfd3"/>
<rect x="120.58" y="134.80" width="7.6" height="5.5" fill="#cfcfd3"/>
<rect x="129.20" y="134.80" width="7.6" height="5.5" fill="#cfcfd3"/>
<rect x="137.82" y="134.80" width="7.6" height="5.5" fill="#cfcfd3"/>
<rect x="155.06" y="134.80" width="7.6" height="5.5" fill="#cfcfd3"/>
<rect x="163.68" y="134.80" width="7.6" height="5.5" fill="#cfcfd3"/>
<rect x="172.30" y="134.80" width="7.6" height="5.5" fill="#cfcfd3"/>
<rect x="180.92" y="134.80" width="7.6" height="5.5" fill="#cfcfd3"/>
<rect x="189.54" y="134.80" width="7.6" height="5.5" fill="#cfcfd3"/>
<rect x="206.78" y="134.80" width="7.6" height="5.5" fill="#cfcfd3"/>
<rect x="241.26" y="134.80" width="7.6" height="5.5" fill="#cfcfd3"/>
<rect x="249.88" y="134.80" width="7.6" height="5.5" fill="#cfcfd3"/>
<rect x="267.12" y="134.80" width="7.6" height="5.5" fill="#cfcfd3"/>
<rect x="275.74" y="134.80" width="7.6" height="5.5" fill="#cfcfd3"/>
<rect x="301.60" y="134.80" width="7.6" height="5.5" fill="#cfcfd3"/>
<rect x="336.08" y="134.80" width="7.6" height="5.5" fill="#cfcfd3"/>
<rect x="344.70" y="134.80" width="7.6" height="5.5" fill="#cfcfd3"/>
<rect x="353.32" y="134.80" width="7.6" height="5.5" fill="#cfcfd3"/>
<rect x="361.94" y="134.80" width="7.6" height="5.5" fill="#cfcfd3"/>
<rect x="370.56" y="134.80" width="7.6" height="5.5" fill="#124e86"/>
<rect x="379.18" y="134.80" width="7.6" height="5.5" fill="#cfcfd3"/>
<rect x="387.80" y="134.80" width="7.6" height="5.5" fill="#cfcfd3"/>
<rect x="396.42" y="134.80" width="7.6" height="5.5" fill="#cfcfd3"/>
<rect x="405.04" y="134.80" width="7.6" height="5.5" fill="#cfcfd3"/>
<rect x="413.66" y="134.80" width="7.6" height="5.5" fill="#cfcfd3"/>
<rect x="422.28" y="134.80" width="7.6" height="5.5" fill="#cfcfd3"/>
<rect x="51.62" y="141.20" width="7.6" height="5.5" fill="#cfcfd3"/>
<rect x="60.24" y="141.20" width="7.6" height="5.5" fill="#cfcfd3"/>
<rect x="68.86" y="141.20" width="7.6" height="5.5" fill="#cfcfd3"/>
<rect x="94.72" y="141.20" width="7.6" height="5.5" fill="#cfcfd3"/>
<rect x="103.34" y="141.20" width="7.6" height="5.5" fill="#cfcfd3"/>
<rect x="111.96" y="141.20" width="7.6" height="5.5" fill="#cfcfd3"/>
<rect x="120.58" y="141.20" width="7.6" height="5.5" fill="#124e86"/>
<rect x="129.20" y="141.20" width="7.6" height="5.5" fill="#cfcfd3"/>
<rect x="137.82" y="141.20" width="7.6" height="5.5" fill="#cfcfd3"/>
<rect x="155.06" y="141.20" width="7.6" height="5.5" fill="#cfcfd3"/>
<rect x="163.68" y="141.20" width="7.6" height="5.5" fill="#cfcfd3"/>
<rect x="172.30" y="141.20" width="7.6" height="5.5" fill="#cfcfd3"/>
<rect x="180.92" y="141.20" width="7.6" height="5.5" fill="#cfcfd3"/>
<rect x="189.54" y="141.20" width="7.6" height="5.5" fill="#cfcfd3"/>
<rect x="206.78" y="141.20" width="7.6" height="5.5" fill="#cfcfd3"/>
<rect x="241.26" y="141.20" width="7.6" height="5.5" fill="#cfcfd3"/>
<rect x="249.88" y="141.20" width="7.6" height="5.5" fill="#cfcfd3"/>
<rect x="267.12" y="141.20" width="7.6" height="5.5" fill="#cfcfd3"/>
<rect x="275.74" y="141.20" width="7.6" height="5.5" fill="#cfcfd3"/>
<rect x="301.60" y="141.20" width="7.6" height="5.5" fill="#cfcfd3"/>
<rect x="336.08" y="141.20" width="7.6" height="5.5" fill="#cfcfd3"/>
<rect x="344.70" y="141.20" width="7.6" height="5.5" fill="#cfcfd3"/>
<rect x="353.32" y="141.20" width="7.6" height="5.5" fill="#cfcfd3"/>
<rect x="361.94" y="141.20" width="7.6" height="5.5" fill="#cfcfd3"/>
<rect x="370.56" y="141.20" width="7.6" height="5.5" fill="#cfcfd3"/>
<rect x="379.18" y="141.20" width="7.6" height="5.5" fill="#cfcfd3"/>
<rect x="387.80" y="141.20" width="7.6" height="5.5" fill="#cfcfd3"/>
<rect x="396.42" y="141.20" width="7.6" height="5.5" fill="#cfcfd3"/>
<rect x="405.04" y="141.20" width="7.6" height="5.5" fill="#cfcfd3"/>
<rect x="413.66" y="141.20" width="7.6" height="5.5" fill="#cfcfd3"/>
<rect x="422.28" y="141.20" width="7.6" height="5.5" fill="#cfcfd3"/>
<rect x="51.62" y="147.60" width="7.6" height="5.5" fill="#cfcfd3"/>
<rect x="60.24" y="147.60" width="7.6" height="5.5" fill="#cfcfd3"/>
<rect x="68.86" y="147.60" width="7.6" height="5.5" fill="#cfcfd3"/>
<rect x="94.72" y="147.60" width="7.6" height="5.5" fill="#cfcfd3"/>
<rect x="103.34" y="147.60" width="7.6" height="5.5" fill="#cfcfd3"/>
<rect x="111.96" y="147.60" width="7.6" height="5.5" fill="#cfcfd3"/>
<rect x="120.58" y="147.60" width="7.6" height="5.5" fill="#cfcfd3"/>
<rect x="129.20" y="147.60" width="7.6" height="5.5" fill="#cfcfd3"/>
<rect x="137.82" y="147.60" width="7.6" height="5.5" fill="#cfcfd3"/>
<rect x="155.06" y="147.60" width="7.6" height="5.5" fill="#cfcfd3"/>
<rect x="163.68" y="147.60" width="7.6" height="5.5" fill="#cfcfd3"/>
<rect x="172.30" y="147.60" width="7.6" height="5.5" fill="#cfcfd3"/>
<rect x="180.92" y="147.60" width="7.6" height="5.5" fill="#cfcfd3"/>
<rect x="189.54" y="147.60" width="7.6" height="5.5" fill="#cfcfd3"/>
<rect x="206.78" y="147.60" width="7.6" height="5.5" fill="#cfcfd3"/>
<rect x="241.26" y="147.60" width="7.6" height="5.5" fill="#cfcfd3"/>
<rect x="249.88" y="147.60" width="7.6" height="5.5" fill="#cfcfd3"/>
<rect x="267.12" y="147.60" width="7.6" height="5.5" fill="#cfcfd3"/>
<rect x="275.74" y="147.60" width="7.6" height="5.5" fill="#cfcfd3"/>
<rect x="301.60" y="147.60" width="7.6" height="5.5" fill="#cfcfd3"/>
<rect x="336.08" y="147.60" width="7.6" height="5.5" fill="#cfcfd3"/>
<rect x="344.70" y="147.60" width="7.6" height="5.5" fill="#cfcfd3"/>
<rect x="353.32" y="147.60" width="7.6" height="5.5" fill="#cfcfd3"/>
<rect x="361.94" y="147.60" width="7.6" height="5.5" fill="#cfcfd3"/>
<rect x="370.56" y="147.60" width="7.6" height="5.5" fill="#cfcfd3"/>
<rect x="379.18" y="147.60" width="7.6" height="5.5" fill="#cfcfd3"/>
<rect x="387.80" y="147.60" width="7.6" height="5.5" fill="#cfcfd3"/>
<rect x="396.42" y="147.60" width="7.6" height="5.5" fill="#124e86"/>
<rect x="405.04" y="147.60" width="7.6" height="5.5" fill="#cfcfd3"/>
<rect x="413.66" y="147.60" width="7.6" height="5.5" fill="#cfcfd3"/>
<rect x="422.28" y="147.60" width="7.6" height="5.5" fill="#cfcfd3"/>
<rect x="51.62" y="154.00" width="7.6" height="5.5" fill="#cfcfd3"/>
<rect x="60.24" y="154.00" width="7.6" height="5.5" fill="#124e86"/>
<rect x="68.86" y="154.00" width="7.6" height="5.5" fill="#cfcfd3"/>
<rect x="94.72" y="154.00" width="7.6" height="5.5" fill="#cfcfd3"/>
<rect x="103.34" y="154.00" width="7.6" height="5.5" fill="#cfcfd3"/>
<rect x="111.96" y="154.00" width="7.6" height="5.5" fill="#cfcfd3"/>
<rect x="120.58" y="154.00" width="7.6" height="5.5" fill="#cfcfd3"/>
<rect x="129.20" y="154.00" width="7.6" height="5.5" fill="#cfcfd3"/>
<rect x="137.82" y="154.00" width="7.6" height="5.5" fill="#cfcfd3"/>
<rect x="155.06" y="154.00" width="7.6" height="5.5" fill="#cfcfd3"/>
<rect x="163.68" y="154.00" width="7.6" height="5.5" fill="#cfcfd3"/>
<rect x="172.30" y="154.00" width="7.6" height="5.5" fill="#cfcfd3"/>
<rect x="180.92" y="154.00" width="7.6" height="5.5" fill="#cfcfd3"/>
<rect x="189.54" y="154.00" width="7.6" height="5.5" fill="#cfcfd3"/>
<rect x="206.78" y="154.00" width="7.6" height="5.5" fill="#cfcfd3"/>
<rect x="241.26" y="154.00" width="7.6" height="5.5" fill="#cfcfd3"/>
<rect x="249.88" y="154.00" width="7.6" height="5.5" fill="#cfcfd3"/>
<rect x="267.12" y="154.00" width="7.6" height="5.5" fill="#cfcfd3"/>
<rect x="275.74" y="154.00" width="7.6" height="5.5" fill="#cfcfd3"/>
<rect x="301.60" y="154.00" width="7.6" height="5.5" fill="#cfcfd3"/>
<rect x="336.08" y="154.00" width="7.6" height="5.5" fill="#cfcfd3"/>
<rect x="344.70" y="154.00" width="7.6" height="5.5" fill="#cfcfd3"/>
<rect x="353.32" y="154.00" width="7.6" height="5.5" fill="#cfcfd3"/>
<rect x="361.94" y="154.00" width="7.6" height="5.5" fill="#cfcfd3"/>
<rect x="370.56" y="154.00" width="7.6" height="5.5" fill="#cfcfd3"/>
<rect x="379.18" y="154.00" width="7.6" height="5.5" fill="#cfcfd3"/>
<rect x="387.80" y="154.00" width="7.6" height="5.5" fill="#cfcfd3"/>
<rect x="396.42" y="154.00" width="7.6" height="5.5" fill="#cfcfd3"/>
<rect x="405.04" y="154.00" width="7.6" height="5.5" fill="#cfcfd3"/>
<rect x="413.66" y="154.00" width="7.6" height="5.5" fill="#cfcfd3"/>
<rect x="422.28" y="154.00" width="7.6" height="5.5" fill="#cfcfd3"/>
<rect x="51.62" y="160.40" width="7.6" height="5.5" fill="#cfcfd3"/>
<rect x="60.24" y="160.40" width="7.6" height="5.5" fill="#cfcfd3"/>
<rect x="68.86" y="160.40" width="7.6" height="5.5" fill="#cfcfd3"/>
<rect x="94.72" y="160.40" width="7.6" height="5.5" fill="#cfcfd3"/>
<rect x="103.34" y="160.40" width="7.6" height="5.5" fill="#cfcfd3"/>
<rect x="111.96" y="160.40" width="7.6" height="5.5" fill="#cfcfd3"/>
<rect x="120.58" y="160.40" width="7.6" height="5.5" fill="#cfcfd3"/>
<rect x="129.20" y="160.40" width="7.6" height="5.5" fill="#cfcfd3"/>
<rect x="137.82" y="160.40" width="7.6" height="5.5" fill="#cfcfd3"/>
<rect x="155.06" y="160.40" width="7.6" height="5.5" fill="#cfcfd3"/>
<rect x="163.68" y="160.40" width="7.6" height="5.5" fill="#cfcfd3"/>
<rect x="172.30" y="160.40" width="7.6" height="5.5" fill="#cfcfd3"/>
<rect x="180.92" y="160.40" width="7.6" height="5.5" fill="#cfcfd3"/>
<rect x="189.54" y="160.40" width="7.6" height="5.5" fill="#cfcfd3"/>
<rect x="206.78" y="160.40" width="7.6" height="5.5" fill="#cfcfd3"/>
<rect x="241.26" y="160.40" width="7.6" height="5.5" fill="#cfcfd3"/>
<rect x="249.88" y="160.40" width="7.6" height="5.5" fill="#cfcfd3"/>
<rect x="267.12" y="160.40" width="7.6" height="5.5" fill="#cfcfd3"/>
<rect x="275.74" y="160.40" width="7.6" height="5.5" fill="#cfcfd3"/>
<rect x="301.60" y="160.40" width="7.6" height="5.5" fill="#cfcfd3"/>
<rect x="336.08" y="160.40" width="7.6" height="5.5" fill="#cfcfd3"/>
<rect x="344.70" y="160.40" width="7.6" height="5.5" fill="#cfcfd3"/>
<rect x="353.32" y="160.40" width="7.6" height="5.5" fill="#cfcfd3"/>
<rect x="361.94" y="160.40" width="7.6" height="5.5" fill="#cfcfd3"/>
<rect x="370.56" y="160.40" width="7.6" height="5.5" fill="#cfcfd3"/>
<rect x="379.18" y="160.40" width="7.6" height="5.5" fill="#cfcfd3"/>
<rect x="387.80" y="160.40" width="7.6" height="5.5" fill="#cfcfd3"/>
<rect x="396.42" y="160.40" width="7.6" height="5.5" fill="#cfcfd3"/>
<rect x="405.04" y="160.40" width="7.6" height="5.5" fill="#cfcfd3"/>
<rect x="413.66" y="160.40" width="7.6" height="5.5" fill="#cfcfd3"/>
<rect x="422.28" y="160.40" width="7.6" height="5.5" fill="#cfcfd3"/>
<rect x="51.62" y="166.80" width="7.6" height="5.5" fill="#cfcfd3"/>
<rect x="60.24" y="166.80" width="7.6" height="5.5" fill="#cfcfd3"/>
<rect x="68.86" y="166.80" width="7.6" height="5.5" fill="#cfcfd3"/>
<rect x="94.72" y="166.80" width="7.6" height="5.5" fill="#cfcfd3"/>
<rect x="103.34" y="166.80" width="7.6" height="5.5" fill="#cfcfd3"/>
<rect x="111.96" y="166.80" width="7.6" height="5.5" fill="#cfcfd3"/>
<rect x="120.58" y="166.80" width="7.6" height="5.5" fill="#cfcfd3"/>
<rect x="129.20" y="166.80" width="7.6" height="5.5" fill="#cfcfd3"/>
<rect x="137.82" y="166.80" width="7.6" height="5.5" fill="#cfcfd3"/>
<rect x="155.06" y="166.80" width="7.6" height="5.5" fill="#cfcfd3"/>
<rect x="163.68" y="166.80" width="7.6" height="5.5" fill="#cfcfd3"/>
<rect x="172.30" y="166.80" width="7.6" height="5.5" fill="#cfcfd3"/>
<rect x="180.92" y="166.80" width="7.6" height="5.5" fill="#cfcfd3"/>
<rect x="189.54" y="166.80" width="7.6" height="5.5" fill="#cfcfd3"/>
<rect x="206.78" y="166.80" width="7.6" height="5.5" fill="#cfcfd3"/>
<rect x="241.26" y="166.80" width="7.6" height="5.5" fill="#cfcfd3"/>
<rect x="249.88" y="166.80" width="7.6" height="5.5" fill="#cfcfd3"/>
<rect x="267.12" y="166.80" width="7.6" height="5.5" fill="#cfcfd3"/>
<rect x="275.74" y="166.80" width="7.6" height="5.5" fill="#cfcfd3"/>
<rect x="301.60" y="166.80" width="7.6" height="5.5" fill="#cfcfd3"/>
<rect x="336.08" y="166.80" width="7.6" height="5.5" fill="#cfcfd3"/>
<rect x="344.70" y="166.80" width="7.6" height="5.5" fill="#cfcfd3"/>
<rect x="353.32" y="166.80" width="7.6" height="5.5" fill="#cfcfd3"/>
<rect x="361.94" y="166.80" width="7.6" height="5.5" fill="#cfcfd3"/>
<rect x="370.56" y="166.80" width="7.6" height="5.5" fill="#cfcfd3"/>
<rect x="379.18" y="166.80" width="7.6" height="5.5" fill="#cfcfd3"/>
<rect x="387.80" y="166.80" width="7.6" height="5.5" fill="#cfcfd3"/>
<rect x="396.42" y="166.80" width="7.6" height="5.5" fill="#cfcfd3"/>
<rect x="405.04" y="166.80" width="7.6" height="5.5" fill="#cfcfd3"/>
<rect x="413.66" y="166.80" width="7.6" height="5.5" fill="#cfcfd3"/>
<rect x="422.28" y="166.80" width="7.6" height="5.5" fill="#cfcfd3"/>
<rect x="51.62" y="173.20" width="7.6" height="5.5" fill="#cfcfd3"/>
<rect x="60.24" y="173.20" width="7.6" height="5.5" fill="#cfcfd3"/>
<rect x="68.86" y="173.20" width="7.6" height="5.5" fill="#cfcfd3"/>
<rect x="94.72" y="173.20" width="7.6" height="5.5" fill="#cfcfd3"/>
<rect x="103.34" y="173.20" width="7.6" height="5.5" fill="#cfcfd3"/>
<rect x="111.96" y="173.20" width="7.6" height="5.5" fill="#cfcfd3"/>
<rect x="120.58" y="173.20" width="7.6" height="5.5" fill="#cfcfd3"/>
<rect x="129.20" y="173.20" width="7.6" height="5.5" fill="#cfcfd3"/>
<rect x="137.82" y="173.20" width="7.6" height="5.5" fill="#cfcfd3"/>
<rect x="146.44" y="173.20" width="7.6" height="5.5" fill="#cfcfd3"/>
<rect x="155.06" y="173.20" width="7.6" height="5.5" fill="#cfcfd3"/>
<rect x="163.68" y="173.20" width="7.6" height="5.5" fill="#cfcfd3"/>
<rect x="172.30" y="173.20" width="7.6" height="5.5" fill="#cfcfd3"/>
<rect x="180.92" y="173.20" width="7.6" height="5.5" fill="#cfcfd3"/>
<rect x="189.54" y="173.20" width="7.6" height="5.5" fill="#cfcfd3"/>
<rect x="198.16" y="173.20" width="7.6" height="5.5" fill="#cfcfd3"/>
<rect x="206.78" y="173.20" width="7.6" height="5.5" fill="#cfcfd3"/>
<rect x="232.64" y="173.20" width="7.6" height="5.5" fill="#cfcfd3"/>
<rect x="241.26" y="173.20" width="7.6" height="5.5" fill="#cfcfd3"/>
<rect x="249.88" y="173.20" width="7.6" height="5.5" fill="#cfcfd3"/>
<rect x="267.12" y="173.20" width="7.6" height="5.5" fill="#cfcfd3"/>
<rect x="275.74" y="173.20" width="7.6" height="5.5" fill="#cfcfd3"/>
<rect x="292.98" y="173.20" width="7.6" height="5.5" fill="#cfcfd3"/>
<rect x="301.60" y="173.20" width="7.6" height="5.5" fill="#cfcfd3"/>
<rect x="318.84" y="173.20" width="7.6" height="5.5" fill="#cfcfd3"/>
<rect x="336.08" y="173.20" width="7.6" height="5.5" fill="#cfcfd3"/>
<rect x="344.70" y="173.20" width="7.6" height="5.5" fill="#cfcfd3"/>
<rect x="353.32" y="173.20" width="7.6" height="5.5" fill="#cfcfd3"/>
<rect x="361.94" y="173.20" width="7.6" height="5.5" fill="#cfcfd3"/>
<rect x="370.56" y="173.20" width="7.6" height="5.5" fill="#cfcfd3"/>
<rect x="379.18" y="173.20" width="7.6" height="5.5" fill="#cfcfd3"/>
<rect x="387.80" y="173.20" width="7.6" height="5.5" fill="#cfcfd3"/>
<rect x="396.42" y="173.20" width="7.6" height="5.5" fill="#cfcfd3"/>
<rect x="405.04" y="173.20" width="7.6" height="5.5" fill="#cfcfd3"/>
<rect x="413.66" y="173.20" width="7.6" height="5.5" fill="#cfcfd3"/>
<rect x="422.28" y="173.20" width="7.6" height="5.5" fill="#cfcfd3"/>
<rect x="51.62" y="179.60" width="7.6" height="5.5" fill="#cfcfd3"/>
<rect x="60.24" y="179.60" width="7.6" height="5.5" fill="#cfcfd3"/>
<rect x="68.86" y="179.60" width="7.6" height="5.5" fill="#cfcfd3"/>
<rect x="94.72" y="179.60" width="7.6" height="5.5" fill="#cfcfd3"/>
<rect x="103.34" y="179.60" width="7.6" height="5.5" fill="#cfcfd3"/>
<rect x="111.96" y="179.60" width="7.6" height="5.5" fill="#cfcfd3"/>
<rect x="120.58" y="179.60" width="7.6" height="5.5" fill="#cfcfd3"/>
<rect x="129.20" y="179.60" width="7.6" height="5.5" fill="#cfcfd3"/>
<rect x="137.82" y="179.60" width="7.6" height="5.5" fill="#cfcfd3"/>
<rect x="155.06" y="179.60" width="7.6" height="5.5" fill="#cfcfd3"/>
<rect x="163.68" y="179.60" width="7.6" height="5.5" fill="#cfcfd3"/>
<rect x="172.30" y="179.60" width="7.6" height="5.5" fill="#cfcfd3"/>
<rect x="180.92" y="179.60" width="7.6" height="5.5" fill="#cfcfd3"/>
<rect x="189.54" y="179.60" width="7.6" height="5.5" fill="#cfcfd3"/>
<rect x="206.78" y="179.60" width="7.6" height="5.5" fill="#cfcfd3"/>
<rect x="241.26" y="179.60" width="7.6" height="5.5" fill="#cfcfd3"/>
<rect x="249.88" y="179.60" width="7.6" height="5.5" fill="#cfcfd3"/>
<rect x="267.12" y="179.60" width="7.6" height="5.5" fill="#cfcfd3"/>
<rect x="275.74" y="179.60" width="7.6" height="5.5" fill="#cfcfd3"/>
<rect x="301.60" y="179.60" width="7.6" height="5.5" fill="#cfcfd3"/>
<rect x="336.08" y="179.60" width="7.6" height="5.5" fill="#cfcfd3"/>
<rect x="344.70" y="179.60" width="7.6" height="5.5" fill="#cfcfd3"/>
<rect x="353.32" y="179.60" width="7.6" height="5.5" fill="#cfcfd3"/>
<rect x="361.94" y="179.60" width="7.6" height="5.5" fill="#cfcfd3"/>
<rect x="370.56" y="179.60" width="7.6" height="5.5" fill="#cfcfd3"/>
<rect x="379.18" y="179.60" width="7.6" height="5.5" fill="#cfcfd3"/>
<rect x="387.80" y="179.60" width="7.6" height="5.5" fill="#cfcfd3"/>
<rect x="396.42" y="179.60" width="7.6" height="5.5" fill="#cfcfd3"/>
<rect x="405.04" y="179.60" width="7.6" height="5.5" fill="#cfcfd3"/>
<rect x="413.66" y="179.60" width="7.6" height="5.5" fill="#cfcfd3"/>
<rect x="422.28" y="179.60" width="7.6" height="5.5" fill="#cfcfd3"/>
<rect x="51.62" y="186.00" width="7.6" height="5.5" fill="#cfcfd3"/>
<rect x="60.24" y="186.00" width="7.6" height="5.5" fill="#cfcfd3"/>
<rect x="68.86" y="186.00" width="7.6" height="5.5" fill="#cfcfd3"/>
<rect x="94.72" y="186.00" width="7.6" height="5.5" fill="#cfcfd3"/>
<rect x="103.34" y="186.00" width="7.6" height="5.5" fill="#cfcfd3"/>
<rect x="111.96" y="186.00" width="7.6" height="5.5" fill="#cfcfd3"/>
<rect x="120.58" y="186.00" width="7.6" height="5.5" fill="#cfcfd3"/>
<rect x="129.20" y="186.00" width="7.6" height="5.5" fill="#cfcfd3"/>
<rect x="137.82" y="186.00" width="7.6" height="5.5" fill="#cfcfd3"/>
<rect x="155.06" y="186.00" width="7.6" height="5.5" fill="#cfcfd3"/>
<rect x="163.68" y="186.00" width="7.6" height="5.5" fill="#cfcfd3"/>
<rect x="172.30" y="186.00" width="7.6" height="5.5" fill="#cfcfd3"/>
<rect x="180.92" y="186.00" width="7.6" height="5.5" fill="#cfcfd3"/>
<rect x="189.54" y="186.00" width="7.6" height="5.5" fill="#cfcfd3"/>
<rect x="206.78" y="186.00" width="7.6" height="5.5" fill="#cfcfd3"/>
<rect x="241.26" y="186.00" width="7.6" height="5.5" fill="#cfcfd3"/>
<rect x="249.88" y="186.00" width="7.6" height="5.5" fill="#cfcfd3"/>
<rect x="267.12" y="186.00" width="7.6" height="5.5" fill="#cfcfd3"/>
<rect x="275.74" y="186.00" width="7.6" height="5.5" fill="#cfcfd3"/>
<rect x="301.60" y="186.00" width="7.6" height="5.5" fill="#cfcfd3"/>
<rect x="336.08" y="186.00" width="7.6" height="5.5" fill="#cfcfd3"/>
<rect x="344.70" y="186.00" width="7.6" height="5.5" fill="#cfcfd3"/>
<rect x="353.32" y="186.00" width="7.6" height="5.5" fill="#cfcfd3"/>
<rect x="361.94" y="186.00" width="7.6" height="5.5" fill="#cfcfd3"/>
<rect x="370.56" y="186.00" width="7.6" height="5.5" fill="#cfcfd3"/>
<rect x="379.18" y="186.00" width="7.6" height="5.5" fill="#cfcfd3"/>
<rect x="387.80" y="186.00" width="7.6" height="5.5" fill="#cfcfd3"/>
<rect x="396.42" y="186.00" width="7.6" height="5.5" fill="#cfcfd3"/>
<rect x="405.04" y="186.00" width="7.6" height="5.5" fill="#cfcfd3"/>
<rect x="413.66" y="186.00" width="7.6" height="5.5" fill="#cfcfd3"/>
<rect x="422.28" y="186.00" width="7.6" height="5.5" fill="#cfcfd3"/>
<rect x="51.62" y="192.40" width="7.6" height="5.5" fill="#cfcfd3"/>
<rect x="60.24" y="192.40" width="7.6" height="5.5" fill="#cfcfd3"/>
<rect x="68.86" y="192.40" width="7.6" height="5.5" fill="#cfcfd3"/>
<rect x="94.72" y="192.40" width="7.6" height="5.5" fill="#cfcfd3"/>
<rect x="103.34" y="192.40" width="7.6" height="5.5" fill="#cfcfd3"/>
<rect x="111.96" y="192.40" width="7.6" height="5.5" fill="#cfcfd3"/>
<rect x="120.58" y="192.40" width="7.6" height="5.5" fill="#cfcfd3"/>
<rect x="129.20" y="192.40" width="7.6" height="5.5" fill="#cfcfd3"/>
<rect x="137.82" y="192.40" width="7.6" height="5.5" fill="#cfcfd3"/>
<rect x="155.06" y="192.40" width="7.6" height="5.5" fill="#cfcfd3"/>
<rect x="163.68" y="192.40" width="7.6" height="5.5" fill="#cfcfd3"/>
<rect x="172.30" y="192.40" width="7.6" height="5.5" fill="#cfcfd3"/>
<rect x="180.92" y="192.40" width="7.6" height="5.5" fill="#cfcfd3"/>
<rect x="189.54" y="192.40" width="7.6" height="5.5" fill="#cfcfd3"/>
<rect x="206.78" y="192.40" width="7.6" height="5.5" fill="#cfcfd3"/>
<rect x="241.26" y="192.40" width="7.6" height="5.5" fill="#cfcfd3"/>
<rect x="249.88" y="192.40" width="7.6" height="5.5" fill="#cfcfd3"/>
<rect x="267.12" y="192.40" width="7.6" height="5.5" fill="#cfcfd3"/>
<rect x="275.74" y="192.40" width="7.6" height="5.5" fill="#cfcfd3"/>
<rect x="301.60" y="192.40" width="7.6" height="5.5" fill="#cfcfd3"/>
<rect x="336.08" y="192.40" width="7.6" height="5.5" fill="#cfcfd3"/>
<rect x="344.70" y="192.40" width="7.6" height="5.5" fill="#cfcfd3"/>
<rect x="353.32" y="192.40" width="7.6" height="5.5" fill="#cfcfd3"/>
<rect x="361.94" y="192.40" width="7.6" height="5.5" fill="#cfcfd3"/>
<rect x="370.56" y="192.40" width="7.6" height="5.5" fill="#cfcfd3"/>
<rect x="379.18" y="192.40" width="7.6" height="5.5" fill="#cfcfd3"/>
<rect x="387.80" y="192.40" width="7.6" height="5.5" fill="#cfcfd3"/>
<rect x="396.42" y="192.40" width="7.6" height="5.5" fill="#cfcfd3"/>
<rect x="405.04" y="192.40" width="7.6" height="5.5" fill="#cfcfd3"/>
<rect x="413.66" y="192.40" width="7.6" height="5.5" fill="#cfcfd3"/>
<rect x="422.28" y="192.40" width="7.6" height="5.5" fill="#cfcfd3"/>
<rect x="51.62" y="198.80" width="7.6" height="5.5" fill="#cfcfd3"/>
<rect x="60.24" y="198.80" width="7.6" height="5.5" fill="#cfcfd3"/>
<rect x="68.86" y="198.80" width="7.6" height="5.5" fill="#cfcfd3"/>
<rect x="94.72" y="198.80" width="7.6" height="5.5" fill="#cfcfd3"/>
<rect x="103.34" y="198.80" width="7.6" height="5.5" fill="#cfcfd3"/>
<rect x="111.96" y="198.80" width="7.6" height="5.5" fill="#cfcfd3"/>
<rect x="120.58" y="198.80" width="7.6" height="5.5" fill="#cfcfd3"/>
<rect x="129.20" y="198.80" width="7.6" height="5.5" fill="#cfcfd3"/>
<rect x="137.82" y="198.80" width="7.6" height="5.5" fill="#cfcfd3"/>
<rect x="146.44" y="198.80" width="7.6" height="5.5" fill="#cfcfd3"/>
<rect x="155.06" y="198.80" width="7.6" height="5.5" fill="#cfcfd3"/>
<rect x="163.68" y="198.80" width="7.6" height="5.5" fill="#cfcfd3"/>
<rect x="172.30" y="198.80" width="7.6" height="5.5" fill="#cfcfd3"/>
<rect x="180.92" y="198.80" width="7.6" height="5.5" fill="#cfcfd3"/>
<rect x="189.54" y="198.80" width="7.6" height="5.5" fill="#cfcfd3"/>
<rect x="206.78" y="198.80" width="7.6" height="5.5" fill="#cfcfd3"/>
<rect x="215.40" y="198.80" width="7.6" height="5.5" fill="#cfcfd3"/>
<rect x="224.02" y="198.80" width="7.6" height="5.5" fill="#cfcfd3"/>
<rect x="232.64" y="198.80" width="7.6" height="5.5" fill="#cfcfd3"/>
<rect x="241.26" y="198.80" width="7.6" height="5.5" fill="#cfcfd3"/>
<rect x="249.88" y="198.80" width="7.6" height="5.5" fill="#cfcfd3"/>
<rect x="258.50" y="198.80" width="7.6" height="5.5" fill="#cfcfd3"/>
<rect x="267.12" y="198.80" width="7.6" height="5.5" fill="#cfcfd3"/>
<rect x="275.74" y="198.80" width="7.6" height="5.5" fill="#cfcfd3"/>
<rect x="292.98" y="198.80" width="7.6" height="5.5" fill="#cfcfd3"/>
<rect x="301.60" y="198.80" width="7.6" height="5.5" fill="#cfcfd3"/>
<rect x="327.46" y="198.80" width="7.6" height="5.5" fill="#cfcfd3"/>
<rect x="336.08" y="198.80" width="7.6" height="5.5" fill="#cfcfd3"/>
<rect x="344.70" y="198.80" width="7.6" height="5.5" fill="#cfcfd3"/>
<rect x="353.32" y="198.80" width="7.6" height="5.5" fill="#cfcfd3"/>
<rect x="361.94" y="198.80" width="7.6" height="5.5" fill="#cfcfd3"/>
<rect x="370.56" y="198.80" width="7.6" height="5.5" fill="#cfcfd3"/>
<rect x="379.18" y="198.80" width="7.6" height="5.5" fill="#cfcfd3"/>
<rect x="387.80" y="198.80" width="7.6" height="5.5" fill="#cfcfd3"/>
<rect x="396.42" y="198.80" width="7.6" height="5.5" fill="#cfcfd3"/>
<rect x="405.04" y="198.80" width="7.6" height="5.5" fill="#cfcfd3"/>
<rect x="413.66" y="198.80" width="7.6" height="5.5" fill="#cfcfd3"/>
<rect x="422.28" y="198.80" width="7.6" height="5.5" fill="#cfcfd3"/>
<rect x="51.62" y="205.20" width="7.6" height="5.5" fill="#cfcfd3"/>
<rect x="60.24" y="205.20" width="7.6" height="5.5" fill="#cfcfd3"/>
<rect x="68.86" y="205.20" width="7.6" height="5.5" fill="#cfcfd3"/>
<rect x="94.72" y="205.20" width="7.6" height="5.5" fill="#cfcfd3"/>
<rect x="103.34" y="205.20" width="7.6" height="5.5" fill="#cfcfd3"/>
<rect x="111.96" y="205.20" width="7.6" height="5.5" fill="#cfcfd3"/>
<rect x="120.58" y="205.20" width="7.6" height="5.5" fill="#cfcfd3"/>
<rect x="129.20" y="205.20" width="7.6" height="5.5" fill="#cfcfd3"/>
<rect x="137.82" y="205.20" width="7.6" height="5.5" fill="#cfcfd3"/>
<rect x="146.44" y="205.20" width="7.6" height="5.5" fill="#cfcfd3"/>
<rect x="155.06" y="205.20" width="7.6" height="5.5" fill="#cfcfd3"/>
<rect x="163.68" y="205.20" width="7.6" height="5.5" fill="#cfcfd3"/>
<rect x="172.30" y="205.20" width="7.6" height="5.5" fill="#cfcfd3"/>
<rect x="180.92" y="205.20" width="7.6" height="5.5" fill="#cfcfd3"/>
<rect x="189.54" y="205.20" width="7.6" height="5.5" fill="#cfcfd3"/>
<rect x="206.78" y="205.20" width="7.6" height="5.5" fill="#cfcfd3"/>
<rect x="215.40" y="205.20" width="7.6" height="5.5" fill="#cfcfd3"/>
<rect x="224.02" y="205.20" width="7.6" height="5.5" fill="#cfcfd3"/>
<rect x="232.64" y="205.20" width="7.6" height="5.5" fill="#cfcfd3"/>
<rect x="241.26" y="205.20" width="7.6" height="5.5" fill="#cfcfd3"/>
<rect x="249.88" y="205.20" width="7.6" height="5.5" fill="#cfcfd3"/>
<rect x="258.50" y="205.20" width="7.6" height="5.5" fill="#cfcfd3"/>
<rect x="267.12" y="205.20" width="7.6" height="5.5" fill="#cfcfd3"/>
<rect x="275.74" y="205.20" width="7.6" height="5.5" fill="#cfcfd3"/>
<rect x="292.98" y="205.20" width="7.6" height="5.5" fill="#cfcfd3"/>
<rect x="301.60" y="205.20" width="7.6" height="5.5" fill="#cfcfd3"/>
<rect x="327.46" y="205.20" width="7.6" height="5.5" fill="#cfcfd3"/>
<rect x="336.08" y="205.20" width="7.6" height="5.5" fill="#cfcfd3"/>
<rect x="344.70" y="205.20" width="7.6" height="5.5" fill="#cfcfd3"/>
<rect x="353.32" y="205.20" width="7.6" height="5.5" fill="#cfcfd3"/>
<rect x="361.94" y="205.20" width="7.6" height="5.5" fill="#cfcfd3"/>
<rect x="370.56" y="205.20" width="7.6" height="5.5" fill="#cfcfd3"/>
<rect x="379.18" y="205.20" width="7.6" height="5.5" fill="#cfcfd3"/>
<rect x="387.80" y="205.20" width="7.6" height="5.5" fill="#cfcfd3"/>
<rect x="396.42" y="205.20" width="7.6" height="5.5" fill="#cfcfd3"/>
<rect x="405.04" y="205.20" width="7.6" height="5.5" fill="#cfcfd3"/>
<rect x="413.66" y="205.20" width="7.6" height="5.5" fill="#cfcfd3"/>
<rect x="422.28" y="205.20" width="7.6" height="5.5" fill="#cfcfd3"/>
<rect x="51.62" y="211.60" width="7.6" height="5.5" fill="#cfcfd3"/>
<rect x="60.24" y="211.60" width="7.6" height="5.5" fill="#cfcfd3"/>
<rect x="68.86" y="211.60" width="7.6" height="5.5" fill="#cfcfd3"/>
<rect x="94.72" y="211.60" width="7.6" height="5.5" fill="#cfcfd3"/>
<rect x="103.34" y="211.60" width="7.6" height="5.5" fill="#cfcfd3"/>
<rect x="111.96" y="211.60" width="7.6" height="5.5" fill="#cfcfd3"/>
<rect x="120.58" y="211.60" width="7.6" height="5.5" fill="#cfcfd3"/>
<rect x="129.20" y="211.60" width="7.6" height="5.5" fill="#cfcfd3"/>
<rect x="137.82" y="211.60" width="7.6" height="5.5" fill="#cfcfd3"/>
<rect x="146.44" y="211.60" width="7.6" height="5.5" fill="#cfcfd3"/>
<rect x="155.06" y="211.60" width="7.6" height="5.5" fill="#cfcfd3"/>
<rect x="163.68" y="211.60" width="7.6" height="5.5" fill="#cfcfd3"/>
<rect x="172.30" y="211.60" width="7.6" height="5.5" fill="#cfcfd3"/>
<rect x="180.92" y="211.60" width="7.6" height="5.5" fill="#cfcfd3"/>
<rect x="189.54" y="211.60" width="7.6" height="5.5" fill="#cfcfd3"/>
<rect x="206.78" y="211.60" width="7.6" height="5.5" fill="#cfcfd3"/>
<rect x="215.40" y="211.60" width="7.6" height="5.5" fill="#cfcfd3"/>
<rect x="224.02" y="211.60" width="7.6" height="5.5" fill="#cfcfd3"/>
<rect x="232.64" y="211.60" width="7.6" height="5.5" fill="#cfcfd3"/>
<rect x="241.26" y="211.60" width="7.6" height="5.5" fill="#cfcfd3"/>
<rect x="249.88" y="211.60" width="7.6" height="5.5" fill="#cfcfd3"/>
<rect x="258.50" y="211.60" width="7.6" height="5.5" fill="#cfcfd3"/>
<rect x="267.12" y="211.60" width="7.6" height="5.5" fill="#cfcfd3"/>
<rect x="275.74" y="211.60" width="7.6" height="5.5" fill="#cfcfd3"/>
<rect x="292.98" y="211.60" width="7.6" height="5.5" fill="#cfcfd3"/>
<rect x="301.60" y="211.60" width="7.6" height="5.5" fill="#cfcfd3"/>
<rect x="327.46" y="211.60" width="7.6" height="5.5" fill="#cfcfd3"/>
<rect x="336.08" y="211.60" width="7.6" height="5.5" fill="#cfcfd3"/>
<rect x="344.70" y="211.60" width="7.6" height="5.5" fill="#cfcfd3"/>
<rect x="353.32" y="211.60" width="7.6" height="5.5" fill="#cfcfd3"/>
<rect x="361.94" y="211.60" width="7.6" height="5.5" fill="#cfcfd3"/>
<rect x="370.56" y="211.60" width="7.6" height="5.5" fill="#cfcfd3"/>
<rect x="379.18" y="211.60" width="7.6" height="5.5" fill="#cfcfd3"/>
<rect x="387.80" y="211.60" width="7.6" height="5.5" fill="#cfcfd3"/>
<rect x="396.42" y="211.60" width="7.6" height="5.5" fill="#cfcfd3"/>
<rect x="405.04" y="211.60" width="7.6" height="5.5" fill="#cfcfd3"/>
<rect x="413.66" y="211.60" width="7.6" height="5.5" fill="#cfcfd3"/>
<rect x="422.28" y="211.60" width="7.6" height="5.5" fill="#cfcfd3"/>
<rect x="51.62" y="218.00" width="7.6" height="5.5" fill="#cfcfd3"/>
<rect x="60.24" y="218.00" width="7.6" height="5.5" fill="#cfcfd3"/>
<rect x="68.86" y="218.00" width="7.6" height="5.5" fill="#cfcfd3"/>
<rect x="94.72" y="218.00" width="7.6" height="5.5" fill="#cfcfd3"/>
<rect x="103.34" y="218.00" width="7.6" height="5.5" fill="#cfcfd3"/>
<rect x="111.96" y="218.00" width="7.6" height="5.5" fill="#cfcfd3"/>
<rect x="120.58" y="218.00" width="7.6" height="5.5" fill="#cfcfd3"/>
<rect x="129.20" y="218.00" width="7.6" height="5.5" fill="#cfcfd3"/>
<rect x="137.82" y="218.00" width="7.6" height="5.5" fill="#cfcfd3"/>
<rect x="146.44" y="218.00" width="7.6" height="5.5" fill="#cfcfd3"/>
<rect x="155.06" y="218.00" width="7.6" height="5.5" fill="#cfcfd3"/>
<rect x="163.68" y="218.00" width="7.6" height="5.5" fill="#cfcfd3"/>
<rect x="172.30" y="218.00" width="7.6" height="5.5" fill="#cfcfd3"/>
<rect x="180.92" y="218.00" width="7.6" height="5.5" fill="#cfcfd3"/>
<rect x="189.54" y="218.00" width="7.6" height="5.5" fill="#cfcfd3"/>
<rect x="206.78" y="218.00" width="7.6" height="5.5" fill="#cfcfd3"/>
<rect x="215.40" y="218.00" width="7.6" height="5.5" fill="#cfcfd3"/>
<rect x="224.02" y="218.00" width="7.6" height="5.5" fill="#cfcfd3"/>
<rect x="232.64" y="218.00" width="7.6" height="5.5" fill="#cfcfd3"/>
<rect x="241.26" y="218.00" width="7.6" height="5.5" fill="#cfcfd3"/>
<rect x="249.88" y="218.00" width="7.6" height="5.5" fill="#cfcfd3"/>
<rect x="258.50" y="218.00" width="7.6" height="5.5" fill="#cfcfd3"/>
<rect x="267.12" y="218.00" width="7.6" height="5.5" fill="#cfcfd3"/>
<rect x="275.74" y="218.00" width="7.6" height="5.5" fill="#cfcfd3"/>
<rect x="292.98" y="218.00" width="7.6" height="5.5" fill="#cfcfd3"/>
<rect x="301.60" y="218.00" width="7.6" height="5.5" fill="#cfcfd3"/>
<rect x="327.46" y="218.00" width="7.6" height="5.5" fill="#cfcfd3"/>
<rect x="336.08" y="218.00" width="7.6" height="5.5" fill="#cfcfd3"/>
<rect x="344.70" y="218.00" width="7.6" height="5.5" fill="#cfcfd3"/>
<rect x="353.32" y="218.00" width="7.6" height="5.5" fill="#cfcfd3"/>
<rect x="361.94" y="218.00" width="7.6" height="5.5" fill="#cfcfd3"/>
<rect x="370.56" y="218.00" width="7.6" height="5.5" fill="#cfcfd3"/>
<rect x="379.18" y="218.00" width="7.6" height="5.5" fill="#cfcfd3"/>
<rect x="387.80" y="218.00" width="7.6" height="5.5" fill="#cfcfd3"/>
<rect x="396.42" y="218.00" width="7.6" height="5.5" fill="#cfcfd3"/>
<rect x="405.04" y="218.00" width="7.6" height="5.5" fill="#cfcfd3"/>
<rect x="413.66" y="218.00" width="7.6" height="5.5" fill="#cfcfd3"/>
<rect x="422.28" y="218.00" width="7.6" height="5.5" fill="#cfcfd3"/>
<rect x="51.62" y="224.40" width="7.6" height="5.5" fill="#cfcfd3"/>
<rect x="60.24" y="224.40" width="7.6" height="5.5" fill="#cfcfd3"/>
<rect x="68.86" y="224.40" width="7.6" height="5.5" fill="#cfcfd3"/>
<rect x="94.72" y="224.40" width="7.6" height="5.5" fill="#cfcfd3"/>
<rect x="103.34" y="224.40" width="7.6" height="5.5" fill="#cfcfd3"/>
<rect x="111.96" y="224.40" width="7.6" height="5.5" fill="#cfcfd3"/>
<rect x="120.58" y="224.40" width="7.6" height="5.5" fill="#cfcfd3"/>
<rect x="129.20" y="224.40" width="7.6" height="5.5" fill="#cfcfd3"/>
<rect x="137.82" y="224.40" width="7.6" height="5.5" fill="#cfcfd3"/>
<rect x="146.44" y="224.40" width="7.6" height="5.5" fill="#cfcfd3"/>
<rect x="155.06" y="224.40" width="7.6" height="5.5" fill="#cfcfd3"/>
<rect x="163.68" y="224.40" width="7.6" height="5.5" fill="#cfcfd3"/>
<rect x="172.30" y="224.40" width="7.6" height="5.5" fill="#cfcfd3"/>
<rect x="180.92" y="224.40" width="7.6" height="5.5" fill="#cfcfd3"/>
<rect x="189.54" y="224.40" width="7.6" height="5.5" fill="#cfcfd3"/>
<rect x="206.78" y="224.40" width="7.6" height="5.5" fill="#cfcfd3"/>
<rect x="215.40" y="224.40" width="7.6" height="5.5" fill="#cfcfd3"/>
<rect x="224.02" y="224.40" width="7.6" height="5.5" fill="#cfcfd3"/>
<rect x="232.64" y="224.40" width="7.6" height="5.5" fill="#cfcfd3"/>
<rect x="241.26" y="224.40" width="7.6" height="5.5" fill="#cfcfd3"/>
<rect x="249.88" y="224.40" width="7.6" height="5.5" fill="#cfcfd3"/>
<rect x="258.50" y="224.40" width="7.6" height="5.5" fill="#cfcfd3"/>
<rect x="267.12" y="224.40" width="7.6" height="5.5" fill="#cfcfd3"/>
<rect x="275.74" y="224.40" width="7.6" height="5.5" fill="#cfcfd3"/>
<rect x="292.98" y="224.40" width="7.6" height="5.5" fill="#cfcfd3"/>
<rect x="301.60" y="224.40" width="7.6" height="5.5" fill="#cfcfd3"/>
<rect x="327.46" y="224.40" width="7.6" height="5.5" fill="#cfcfd3"/>
<rect x="336.08" y="224.40" width="7.6" height="5.5" fill="#cfcfd3"/>
<rect x="344.70" y="224.40" width="7.6" height="5.5" fill="#cfcfd3"/>
<rect x="353.32" y="224.40" width="7.6" height="5.5" fill="#cfcfd3"/>
<rect x="361.94" y="224.40" width="7.6" height="5.5" fill="#cfcfd3"/>
<rect x="370.56" y="224.40" width="7.6" height="5.5" fill="#cfcfd3"/>
<rect x="379.18" y="224.40" width="7.6" height="5.5" fill="#cfcfd3"/>
<rect x="387.80" y="224.40" width="7.6" height="5.5" fill="#cfcfd3"/>
<rect x="396.42" y="224.40" width="7.6" height="5.5" fill="#cfcfd3"/>
<rect x="405.04" y="224.40" width="7.6" height="5.5" fill="#cfcfd3"/>
<rect x="413.66" y="224.40" width="7.6" height="5.5" fill="#cfcfd3"/>
<rect x="422.28" y="224.40" width="7.6" height="5.5" fill="#cfcfd3"/>
<rect x="51.62" y="230.80" width="7.6" height="5.5" fill="#cfcfd3"/>
<rect x="60.24" y="230.80" width="7.6" height="5.5" fill="#cfcfd3"/>
<rect x="68.86" y="230.80" width="7.6" height="5.5" fill="#cfcfd3"/>
<rect x="94.72" y="230.80" width="7.6" height="5.5" fill="#cfcfd3"/>
<rect x="103.34" y="230.80" width="7.6" height="5.5" fill="#cfcfd3"/>
<rect x="111.96" y="230.80" width="7.6" height="5.5" fill="#cfcfd3"/>
<rect x="120.58" y="230.80" width="7.6" height="5.5" fill="#cfcfd3"/>
<rect x="129.20" y="230.80" width="7.6" height="5.5" fill="#cfcfd3"/>
<rect x="137.82" y="230.80" width="7.6" height="5.5" fill="#cfcfd3"/>
<rect x="146.44" y="230.80" width="7.6" height="5.5" fill="#cfcfd3"/>
<rect x="155.06" y="230.80" width="7.6" height="5.5" fill="#cfcfd3"/>
<rect x="163.68" y="230.80" width="7.6" height="5.5" fill="#cfcfd3"/>
<rect x="172.30" y="230.80" width="7.6" height="5.5" fill="#cfcfd3"/>
<rect x="180.92" y="230.80" width="7.6" height="5.5" fill="#cfcfd3"/>
<rect x="189.54" y="230.80" width="7.6" height="5.5" fill="#cfcfd3"/>
<rect x="206.78" y="230.80" width="7.6" height="5.5" fill="#cfcfd3"/>
<rect x="215.40" y="230.80" width="7.6" height="5.5" fill="#cfcfd3"/>
<rect x="224.02" y="230.80" width="7.6" height="5.5" fill="#cfcfd3"/>
<rect x="232.64" y="230.80" width="7.6" height="5.5" fill="#cfcfd3"/>
<rect x="241.26" y="230.80" width="7.6" height="5.5" fill="#cfcfd3"/>
<rect x="249.88" y="230.80" width="7.6" height="5.5" fill="#cfcfd3"/>
<rect x="258.50" y="230.80" width="7.6" height="5.5" fill="#cfcfd3"/>
<rect x="267.12" y="230.80" width="7.6" height="5.5" fill="#cfcfd3"/>
<rect x="275.74" y="230.80" width="7.6" height="5.5" fill="#cfcfd3"/>
<rect x="292.98" y="230.80" width="7.6" height="5.5" fill="#cfcfd3"/>
<rect x="301.60" y="230.80" width="7.6" height="5.5" fill="#cfcfd3"/>
<rect x="327.46" y="230.80" width="7.6" height="5.5" fill="#cfcfd3"/>
<rect x="336.08" y="230.80" width="7.6" height="5.5" fill="#cfcfd3"/>
<rect x="344.70" y="230.80" width="7.6" height="5.5" fill="#cfcfd3"/>
<rect x="353.32" y="230.80" width="7.6" height="5.5" fill="#cfcfd3"/>
<rect x="361.94" y="230.80" width="7.6" height="5.5" fill="#cfcfd3"/>
<rect x="370.56" y="230.80" width="7.6" height="5.5" fill="#cfcfd3"/>
<rect x="379.18" y="230.80" width="7.6" height="5.5" fill="#cfcfd3"/>
<rect x="387.80" y="230.80" width="7.6" height="5.5" fill="#cfcfd3"/>
<rect x="396.42" y="230.80" width="7.6" height="5.5" fill="#cfcfd3"/>
<rect x="405.04" y="230.80" width="7.6" height="5.5" fill="#cfcfd3"/>
<rect x="413.66" y="230.80" width="7.6" height="5.5" fill="#cfcfd3"/>
<rect x="422.28" y="230.80" width="7.6" height="5.5" fill="#cfcfd3"/>
<rect x="51.62" y="237.20" width="7.6" height="5.5" fill="#cfcfd3"/>
<rect x="60.24" y="237.20" width="7.6" height="5.5" fill="#cfcfd3"/>
<rect x="68.86" y="237.20" width="7.6" height="5.5" fill="#cfcfd3"/>
<rect x="94.72" y="237.20" width="7.6" height="5.5" fill="#cfcfd3"/>
<rect x="103.34" y="237.20" width="7.6" height="5.5" fill="#cfcfd3"/>
<rect x="111.96" y="237.20" width="7.6" height="5.5" fill="#cfcfd3"/>
<rect x="120.58" y="237.20" width="7.6" height="5.5" fill="#cfcfd3"/>
<rect x="129.20" y="237.20" width="7.6" height="5.5" fill="#cfcfd3"/>
<rect x="137.82" y="237.20" width="7.6" height="5.5" fill="#cfcfd3"/>
<rect x="146.44" y="237.20" width="7.6" height="5.5" fill="#cfcfd3"/>
<rect x="155.06" y="237.20" width="7.6" height="5.5" fill="#cfcfd3"/>
<rect x="163.68" y="237.20" width="7.6" height="5.5" fill="#cfcfd3"/>
<rect x="172.30" y="237.20" width="7.6" height="5.5" fill="#cfcfd3"/>
<rect x="180.92" y="237.20" width="7.6" height="5.5" fill="#cfcfd3"/>
<rect x="189.54" y="237.20" width="7.6" height="5.5" fill="#cfcfd3"/>
<rect x="206.78" y="237.20" width="7.6" height="5.5" fill="#cfcfd3"/>
<rect x="215.40" y="237.20" width="7.6" height="5.5" fill="#cfcfd3"/>
<rect x="224.02" y="237.20" width="7.6" height="5.5" fill="#cfcfd3"/>
<rect x="232.64" y="237.20" width="7.6" height="5.5" fill="#cfcfd3"/>
<rect x="241.26" y="237.20" width="7.6" height="5.5" fill="#cfcfd3"/>
<rect x="249.88" y="237.20" width="7.6" height="5.5" fill="#cfcfd3"/>
<rect x="258.50" y="237.20" width="7.6" height="5.5" fill="#cfcfd3"/>
<rect x="267.12" y="237.20" width="7.6" height="5.5" fill="#cfcfd3"/>
<rect x="275.74" y="237.20" width="7.6" height="5.5" fill="#cfcfd3"/>
<rect x="292.98" y="237.20" width="7.6" height="5.5" fill="#cfcfd3"/>
<rect x="301.60" y="237.20" width="7.6" height="5.5" fill="#cfcfd3"/>
<rect x="327.46" y="237.20" width="7.6" height="5.5" fill="#cfcfd3"/>
<rect x="336.08" y="237.20" width="7.6" height="5.5" fill="#cfcfd3"/>
<rect x="344.70" y="237.20" width="7.6" height="5.5" fill="#cfcfd3"/>
<rect x="353.32" y="237.20" width="7.6" height="5.5" fill="#cfcfd3"/>
<rect x="361.94" y="237.20" width="7.6" height="5.5" fill="#cfcfd3"/>
<rect x="370.56" y="237.20" width="7.6" height="5.5" fill="#cfcfd3"/>
<rect x="379.18" y="237.20" width="7.6" height="5.5" fill="#cfcfd3"/>
<rect x="387.80" y="237.20" width="7.6" height="5.5" fill="#cfcfd3"/>
<rect x="396.42" y="237.20" width="7.6" height="5.5" fill="#cfcfd3"/>
<rect x="405.04" y="237.20" width="7.6" height="5.5" fill="#cfcfd3"/>
<rect x="413.66" y="237.20" width="7.6" height="5.5" fill="#cfcfd3"/>
<rect x="422.28" y="237.20" width="7.6" height="5.5" fill="#cfcfd3"/>
<rect x="43.00" y="243.60" width="7.6" height="5.5" fill="#cfcfd3"/>
<rect x="51.62" y="243.60" width="7.6" height="5.5" fill="#cfcfd3"/>
<rect x="60.24" y="243.60" width="7.6" height="5.5" fill="#cfcfd3"/>
<rect x="68.86" y="243.60" width="7.6" height="5.5" fill="#cfcfd3"/>
<rect x="77.48" y="243.60" width="7.6" height="5.5" fill="#cfcfd3"/>
<rect x="86.10" y="243.60" width="7.6" height="5.5" fill="#cfcfd3"/>
<rect x="94.72" y="243.60" width="7.6" height="5.5" fill="#cfcfd3"/>
<rect x="103.34" y="243.60" width="7.6" height="5.5" fill="#cfcfd3"/>
<rect x="111.96" y="243.60" width="7.6" height="5.5" fill="#cfcfd3"/>
<rect x="120.58" y="243.60" width="7.6" height="5.5" fill="#cfcfd3"/>
<rect x="129.20" y="243.60" width="7.6" height="5.5" fill="#cfcfd3"/>
<rect x="137.82" y="243.60" width="7.6" height="5.5" fill="#cfcfd3"/>
<rect x="146.44" y="243.60" width="7.6" height="5.5" fill="#cfcfd3"/>
<rect x="155.06" y="243.60" width="7.6" height="5.5" fill="#cfcfd3"/>
<rect x="163.68" y="243.60" width="7.6" height="5.5" fill="#cfcfd3"/>
<rect x="172.30" y="243.60" width="7.6" height="5.5" fill="#cfcfd3"/>
<rect x="198.16" y="243.60" width="7.6" height="5.5" fill="#cfcfd3"/>
<rect x="206.78" y="243.60" width="7.6" height="5.5" fill="#cfcfd3"/>
<rect x="215.40" y="243.60" width="7.6" height="5.5" fill="#cfcfd3"/>
<rect x="224.02" y="243.60" width="7.6" height="5.5" fill="#cfcfd3"/>
<rect x="232.64" y="243.60" width="7.6" height="5.5" fill="#cfcfd3"/>
<rect x="241.26" y="243.60" width="7.6" height="5.5" fill="#cfcfd3"/>
<rect x="249.88" y="243.60" width="7.6" height="5.5" fill="#cfcfd3"/>
<rect x="258.50" y="243.60" width="7.6" height="5.5" fill="#cfcfd3"/>
<rect x="267.12" y="243.60" width="7.6" height="5.5" fill="#cfcfd3"/>
<rect x="275.74" y="243.60" width="7.6" height="5.5" fill="#cfcfd3"/>
<rect x="284.36" y="243.60" width="7.6" height="5.5" fill="#cfcfd3"/>
<rect x="292.98" y="243.60" width="7.6" height="5.5" fill="#cfcfd3"/>
<rect x="301.60" y="243.60" width="7.6" height="5.5" fill="#cfcfd3"/>
<rect x="310.22" y="243.60" width="7.6" height="5.5" fill="#cfcfd3"/>
<rect x="318.84" y="243.60" width="7.6" height="5.5" fill="#cfcfd3"/>
<rect x="327.46" y="243.60" width="7.6" height="5.5" fill="#cfcfd3"/>
<rect x="336.08" y="243.60" width="7.6" height="5.5" fill="#cfcfd3"/>
<rect x="344.70" y="243.60" width="7.6" height="5.5" fill="#cfcfd3"/>
<rect x="353.32" y="243.60" width="7.6" height="5.5" fill="#cfcfd3"/>
<rect x="361.94" y="243.60" width="7.6" height="5.5" fill="#cfcfd3"/>
<rect x="370.56" y="243.60" width="7.6" height="5.5" fill="#cfcfd3"/>
<rect x="379.18" y="243.60" width="7.6" height="5.5" fill="#cfcfd3"/>
<rect x="387.80" y="243.60" width="7.6" height="5.5" fill="#cfcfd3"/>
<rect x="396.42" y="243.60" width="7.6" height="5.5" fill="#cfcfd3"/>
<rect x="405.04" y="243.60" width="7.6" height="5.5" fill="#cfcfd3"/>
<rect x="413.66" y="243.60" width="7.6" height="5.5" fill="#cfcfd3"/>
<rect x="422.28" y="243.60" width="7.6" height="5.5" fill="#cfcfd3"/>
<rect x="43.00" y="250.00" width="7.6" height="5.5" fill="#cfcfd3"/>
<rect x="51.62" y="250.00" width="7.6" height="5.5" fill="#cfcfd3"/>
<rect x="60.24" y="250.00" width="7.6" height="5.5" fill="#cfcfd3"/>
<rect x="68.86" y="250.00" width="7.6" height="5.5" fill="#cfcfd3"/>
<rect x="77.48" y="250.00" width="7.6" height="5.5" fill="#cfcfd3"/>
<rect x="86.10" y="250.00" width="7.6" height="5.5" fill="#cfcfd3"/>
<rect x="94.72" y="250.00" width="7.6" height="5.5" fill="#cfcfd3"/>
<rect x="103.34" y="250.00" width="7.6" height="5.5" fill="#cfcfd3"/>
<rect x="111.96" y="250.00" width="7.6" height="5.5" fill="#cfcfd3"/>
<rect x="120.58" y="250.00" width="7.6" height="5.5" fill="#cfcfd3"/>
<rect x="129.20" y="250.00" width="7.6" height="5.5" fill="#cfcfd3"/>
<rect x="137.82" y="250.00" width="7.6" height="5.5" fill="#cfcfd3"/>
<rect x="146.44" y="250.00" width="7.6" height="5.5" fill="#cfcfd3"/>
<rect x="155.06" y="250.00" width="7.6" height="5.5" fill="#cfcfd3"/>
<rect x="163.68" y="250.00" width="7.6" height="5.5" fill="#cfcfd3"/>
<rect x="172.30" y="250.00" width="7.6" height="5.5" fill="#cfcfd3"/>
<rect x="198.16" y="250.00" width="7.6" height="5.5" fill="#cfcfd3"/>
<rect x="206.78" y="250.00" width="7.6" height="5.5" fill="#cfcfd3"/>
<rect x="215.40" y="250.00" width="7.6" height="5.5" fill="#cfcfd3"/>
<rect x="224.02" y="250.00" width="7.6" height="5.5" fill="#cfcfd3"/>
<rect x="232.64" y="250.00" width="7.6" height="5.5" fill="#cfcfd3"/>
<rect x="241.26" y="250.00" width="7.6" height="5.5" fill="#cfcfd3"/>
<rect x="249.88" y="250.00" width="7.6" height="5.5" fill="#cfcfd3"/>
<rect x="258.50" y="250.00" width="7.6" height="5.5" fill="#cfcfd3"/>
<rect x="267.12" y="250.00" width="7.6" height="5.5" fill="#cfcfd3"/>
<rect x="275.74" y="250.00" width="7.6" height="5.5" fill="#cfcfd3"/>
<rect x="284.36" y="250.00" width="7.6" height="5.5" fill="#cfcfd3"/>
<rect x="292.98" y="250.00" width="7.6" height="5.5" fill="#cfcfd3"/>
<rect x="301.60" y="250.00" width="7.6" height="5.5" fill="#cfcfd3"/>
<rect x="310.22" y="250.00" width="7.6" height="5.5" fill="#cfcfd3"/>
<rect x="318.84" y="250.00" width="7.6" height="5.5" fill="#cfcfd3"/>
<rect x="327.46" y="250.00" width="7.6" height="5.5" fill="#cfcfd3"/>
<rect x="336.08" y="250.00" width="7.6" height="5.5" fill="#cfcfd3"/>
<rect x="344.70" y="250.00" width="7.6" height="5.5" fill="#cfcfd3"/>
<rect x="353.32" y="250.00" width="7.6" height="5.5" fill="#cfcfd3"/>
<rect x="361.94" y="250.00" width="7.6" height="5.5" fill="#cfcfd3"/>
<rect x="370.56" y="250.00" width="7.6" height="5.5" fill="#cfcfd3"/>
<rect x="379.18" y="250.00" width="7.6" height="5.5" fill="#cfcfd3"/>
<rect x="387.80" y="250.00" width="7.6" height="5.5" fill="#cfcfd3"/>
<rect x="396.42" y="250.00" width="7.6" height="5.5" fill="#cfcfd3"/>
<rect x="405.04" y="250.00" width="7.6" height="5.5" fill="#cfcfd3"/>
<rect x="413.66" y="250.00" width="7.6" height="5.5" fill="#cfcfd3"/>
<rect x="422.28" y="250.00" width="7.6" height="5.5" fill="#cfcfd3"/>
<rect x="43.00" y="256.40" width="7.6" height="5.5" fill="#cfcfd3"/>
<rect x="51.62" y="256.40" width="7.6" height="5.5" fill="#cfcfd3"/>
<rect x="60.24" y="256.40" width="7.6" height="5.5" fill="#cfcfd3"/>
<rect x="68.86" y="256.40" width="7.6" height="5.5" fill="#cfcfd3"/>
<rect x="77.48" y="256.40" width="7.6" height="5.5" fill="#cfcfd3"/>
<rect x="86.10" y="256.40" width="7.6" height="5.5" fill="#cfcfd3"/>
<rect x="94.72" y="256.40" width="7.6" height="5.5" fill="#cfcfd3"/>
<rect x="103.34" y="256.40" width="7.6" height="5.5" fill="#cfcfd3"/>
<rect x="111.96" y="256.40" width="7.6" height="5.5" fill="#cfcfd3"/>
<rect x="120.58" y="256.40" width="7.6" height="5.5" fill="#cfcfd3"/>
<rect x="129.20" y="256.40" width="7.6" height="5.5" fill="#cfcfd3"/>
<rect x="137.82" y="256.40" width="7.6" height="5.5" fill="#cfcfd3"/>
<rect x="146.44" y="256.40" width="7.6" height="5.5" fill="#cfcfd3"/>
<rect x="155.06" y="256.40" width="7.6" height="5.5" fill="#cfcfd3"/>
<rect x="163.68" y="256.40" width="7.6" height="5.5" fill="#cfcfd3"/>
<rect x="172.30" y="256.40" width="7.6" height="5.5" fill="#cfcfd3"/>
<rect x="198.16" y="256.40" width="7.6" height="5.5" fill="#cfcfd3"/>
<rect x="206.78" y="256.40" width="7.6" height="5.5" fill="#cfcfd3"/>
<rect x="215.40" y="256.40" width="7.6" height="5.5" fill="#cfcfd3"/>
<rect x="224.02" y="256.40" width="7.6" height="5.5" fill="#cfcfd3"/>
<rect x="232.64" y="256.40" width="7.6" height="5.5" fill="#cfcfd3"/>
<rect x="241.26" y="256.40" width="7.6" height="5.5" fill="#cfcfd3"/>
<rect x="249.88" y="256.40" width="7.6" height="5.5" fill="#cfcfd3"/>
<rect x="258.50" y="256.40" width="7.6" height="5.5" fill="#cfcfd3"/>
<rect x="267.12" y="256.40" width="7.6" height="5.5" fill="#cfcfd3"/>
<rect x="275.74" y="256.40" width="7.6" height="5.5" fill="#cfcfd3"/>
<rect x="284.36" y="256.40" width="7.6" height="5.5" fill="#cfcfd3"/>
<rect x="292.98" y="256.40" width="7.6" height="5.5" fill="#cfcfd3"/>
<rect x="301.60" y="256.40" width="7.6" height="5.5" fill="#cfcfd3"/>
<rect x="310.22" y="256.40" width="7.6" height="5.5" fill="#cfcfd3"/>
<rect x="318.84" y="256.40" width="7.6" height="5.5" fill="#cfcfd3"/>
<rect x="327.46" y="256.40" width="7.6" height="5.5" fill="#cfcfd3"/>
<rect x="336.08" y="256.40" width="7.6" height="5.5" fill="#cfcfd3"/>
<rect x="344.70" y="256.40" width="7.6" height="5.5" fill="#cfcfd3"/>
<rect x="353.32" y="256.40" width="7.6" height="5.5" fill="#cfcfd3"/>
<rect x="361.94" y="256.40" width="7.6" height="5.5" fill="#cfcfd3"/>
<rect x="370.56" y="256.40" width="7.6" height="5.5" fill="#cfcfd3"/>
<rect x="379.18" y="256.40" width="7.6" height="5.5" fill="#cfcfd3"/>
<rect x="387.80" y="256.40" width="7.6" height="5.5" fill="#cfcfd3"/>
<rect x="396.42" y="256.40" width="7.6" height="5.5" fill="#cfcfd3"/>
<rect x="405.04" y="256.40" width="7.6" height="5.5" fill="#cfcfd3"/>
<rect x="413.66" y="256.40" width="7.6" height="5.5" fill="#cfcfd3"/>
<rect x="422.28" y="256.40" width="7.6" height="5.5" fill="#cfcfd3"/>
<rect x="43.00" y="262.80" width="7.6" height="5.5" fill="#cfcfd3"/>
<rect x="51.62" y="262.80" width="7.6" height="5.5" fill="#cfcfd3"/>
<rect x="60.24" y="262.80" width="7.6" height="5.5" fill="#cfcfd3"/>
<rect x="68.86" y="262.80" width="7.6" height="5.5" fill="#cfcfd3"/>
<rect x="77.48" y="262.80" width="7.6" height="5.5" fill="#cfcfd3"/>
<rect x="86.10" y="262.80" width="7.6" height="5.5" fill="#cfcfd3"/>
<rect x="94.72" y="262.80" width="7.6" height="5.5" fill="#cfcfd3"/>
<rect x="103.34" y="262.80" width="7.6" height="5.5" fill="#cfcfd3"/>
<rect x="111.96" y="262.80" width="7.6" height="5.5" fill="#cfcfd3"/>
<rect x="120.58" y="262.80" width="7.6" height="5.5" fill="#cfcfd3"/>
<rect x="129.20" y="262.80" width="7.6" height="5.5" fill="#cfcfd3"/>
<rect x="137.82" y="262.80" width="7.6" height="5.5" fill="#cfcfd3"/>
<rect x="146.44" y="262.80" width="7.6" height="5.5" fill="#cfcfd3"/>
<rect x="155.06" y="262.80" width="7.6" height="5.5" fill="#cfcfd3"/>
<rect x="163.68" y="262.80" width="7.6" height="5.5" fill="#cfcfd3"/>
<rect x="172.30" y="262.80" width="7.6" height="5.5" fill="#cfcfd3"/>
<rect x="198.16" y="262.80" width="7.6" height="5.5" fill="#cfcfd3"/>
<rect x="206.78" y="262.80" width="7.6" height="5.5" fill="#cfcfd3"/>
<rect x="215.40" y="262.80" width="7.6" height="5.5" fill="#cfcfd3"/>
<rect x="224.02" y="262.80" width="7.6" height="5.5" fill="#cfcfd3"/>
<rect x="232.64" y="262.80" width="7.6" height="5.5" fill="#cfcfd3"/>
<rect x="241.26" y="262.80" width="7.6" height="5.5" fill="#cfcfd3"/>
<rect x="249.88" y="262.80" width="7.6" height="5.5" fill="#cfcfd3"/>
<rect x="258.50" y="262.80" width="7.6" height="5.5" fill="#cfcfd3"/>
<rect x="267.12" y="262.80" width="7.6" height="5.5" fill="#cfcfd3"/>
<rect x="275.74" y="262.80" width="7.6" height="5.5" fill="#cfcfd3"/>
<rect x="284.36" y="262.80" width="7.6" height="5.5" fill="#cfcfd3"/>
<rect x="292.98" y="262.80" width="7.6" height="5.5" fill="#cfcfd3"/>
<rect x="301.60" y="262.80" width="7.6" height="5.5" fill="#cfcfd3"/>
<rect x="310.22" y="262.80" width="7.6" height="5.5" fill="#cfcfd3"/>
<rect x="318.84" y="262.80" width="7.6" height="5.5" fill="#cfcfd3"/>
<rect x="327.46" y="262.80" width="7.6" height="5.5" fill="#cfcfd3"/>
<rect x="336.08" y="262.80" width="7.6" height="5.5" fill="#cfcfd3"/>
<rect x="344.70" y="262.80" width="7.6" height="5.5" fill="#cfcfd3"/>
<rect x="353.32" y="262.80" width="7.6" height="5.5" fill="#cfcfd3"/>
<rect x="361.94" y="262.80" width="7.6" height="5.5" fill="#cfcfd3"/>
<rect x="370.56" y="262.80" width="7.6" height="5.5" fill="#cfcfd3"/>
<rect x="379.18" y="262.80" width="7.6" height="5.5" fill="#cfcfd3"/>
<rect x="387.80" y="262.80" width="7.6" height="5.5" fill="#cfcfd3"/>
<rect x="396.42" y="262.80" width="7.6" height="5.5" fill="#cfcfd3"/>
<rect x="405.04" y="262.80" width="7.6" height="5.5" fill="#cfcfd3"/>
<rect x="413.66" y="262.80" width="7.6" height="5.5" fill="#cfcfd3"/>
<rect x="422.28" y="262.80" width="7.6" height="5.5" fill="#cfcfd3"/>
<rect x="43.00" y="269.20" width="7.6" height="5.5" fill="#cfcfd3"/>
<rect x="51.62" y="269.20" width="7.6" height="5.5" fill="#cfcfd3"/>
<rect x="60.24" y="269.20" width="7.6" height="5.5" fill="#cfcfd3"/>
<rect x="68.86" y="269.20" width="7.6" height="5.5" fill="#cfcfd3"/>
<rect x="77.48" y="269.20" width="7.6" height="5.5" fill="#cfcfd3"/>
<rect x="86.10" y="269.20" width="7.6" height="5.5" fill="#cfcfd3"/>
<rect x="94.72" y="269.20" width="7.6" height="5.5" fill="#cfcfd3"/>
<rect x="103.34" y="269.20" width="7.6" height="5.5" fill="#cfcfd3"/>
<rect x="111.96" y="269.20" width="7.6" height="5.5" fill="#cfcfd3"/>
<rect x="120.58" y="269.20" width="7.6" height="5.5" fill="#cfcfd3"/>
<rect x="129.20" y="269.20" width="7.6" height="5.5" fill="#cfcfd3"/>
<rect x="137.82" y="269.20" width="7.6" height="5.5" fill="#cfcfd3"/>
<rect x="146.44" y="269.20" width="7.6" height="5.5" fill="#cfcfd3"/>
<rect x="155.06" y="269.20" width="7.6" height="5.5" fill="#cfcfd3"/>
<rect x="163.68" y="269.20" width="7.6" height="5.5" fill="#cfcfd3"/>
<rect x="172.30" y="269.20" width="7.6" height="5.5" fill="#cfcfd3"/>
<rect x="198.16" y="269.20" width="7.6" height="5.5" fill="#cfcfd3"/>
<rect x="206.78" y="269.20" width="7.6" height="5.5" fill="#cfcfd3"/>
<rect x="215.40" y="269.20" width="7.6" height="5.5" fill="#cfcfd3"/>
<rect x="224.02" y="269.20" width="7.6" height="5.5" fill="#cfcfd3"/>
<rect x="232.64" y="269.20" width="7.6" height="5.5" fill="#cfcfd3"/>
<rect x="241.26" y="269.20" width="7.6" height="5.5" fill="#cfcfd3"/>
<rect x="249.88" y="269.20" width="7.6" height="5.5" fill="#cfcfd3"/>
<rect x="258.50" y="269.20" width="7.6" height="5.5" fill="#cfcfd3"/>
<rect x="267.12" y="269.20" width="7.6" height="5.5" fill="#cfcfd3"/>
<rect x="275.74" y="269.20" width="7.6" height="5.5" fill="#cfcfd3"/>
<rect x="284.36" y="269.20" width="7.6" height="5.5" fill="#cfcfd3"/>
<rect x="292.98" y="269.20" width="7.6" height="5.5" fill="#cfcfd3"/>
<rect x="301.60" y="269.20" width="7.6" height="5.5" fill="#cfcfd3"/>
<rect x="310.22" y="269.20" width="7.6" height="5.5" fill="#cfcfd3"/>
<rect x="318.84" y="269.20" width="7.6" height="5.5" fill="#cfcfd3"/>
<rect x="327.46" y="269.20" width="7.6" height="5.5" fill="#cfcfd3"/>
<rect x="336.08" y="269.20" width="7.6" height="5.5" fill="#cfcfd3"/>
<rect x="344.70" y="269.20" width="7.6" height="5.5" fill="#cfcfd3"/>
<rect x="353.32" y="269.20" width="7.6" height="5.5" fill="#cfcfd3"/>
<rect x="361.94" y="269.20" width="7.6" height="5.5" fill="#cfcfd3"/>
<rect x="370.56" y="269.20" width="7.6" height="5.5" fill="#cfcfd3"/>
<rect x="379.18" y="269.20" width="7.6" height="5.5" fill="#cfcfd3"/>
<rect x="387.80" y="269.20" width="7.6" height="5.5" fill="#cfcfd3"/>
<rect x="396.42" y="269.20" width="7.6" height="5.5" fill="#cfcfd3"/>
<rect x="405.04" y="269.20" width="7.6" height="5.5" fill="#cfcfd3"/>
<rect x="413.66" y="269.20" width="7.6" height="5.5" fill="#cfcfd3"/>
<rect x="422.28" y="269.20" width="7.6" height="5.5" fill="#cfcfd3"/>
<rect x="43.00" y="275.60" width="7.6" height="5.5" fill="#cfcfd3"/>
<rect x="51.62" y="275.60" width="7.6" height="5.5" fill="#cfcfd3"/>
<rect x="60.24" y="275.60" width="7.6" height="5.5" fill="#cfcfd3"/>
<rect x="68.86" y="275.60" width="7.6" height="5.5" fill="#cfcfd3"/>
<rect x="77.48" y="275.60" width="7.6" height="5.5" fill="#cfcfd3"/>
<rect x="86.10" y="275.60" width="7.6" height="5.5" fill="#cfcfd3"/>
<rect x="94.72" y="275.60" width="7.6" height="5.5" fill="#cfcfd3"/>
<rect x="103.34" y="275.60" width="7.6" height="5.5" fill="#cfcfd3"/>
<rect x="111.96" y="275.60" width="7.6" height="5.5" fill="#cfcfd3"/>
<rect x="120.58" y="275.60" width="7.6" height="5.5" fill="#cfcfd3"/>
<rect x="129.20" y="275.60" width="7.6" height="5.5" fill="#cfcfd3"/>
<rect x="137.82" y="275.60" width="7.6" height="5.5" fill="#cfcfd3"/>
<rect x="146.44" y="275.60" width="7.6" height="5.5" fill="#cfcfd3"/>
<rect x="155.06" y="275.60" width="7.6" height="5.5" fill="#cfcfd3"/>
<rect x="163.68" y="275.60" width="7.6" height="5.5" fill="#cfcfd3"/>
<rect x="172.30" y="275.60" width="7.6" height="5.5" fill="#cfcfd3"/>
<rect x="198.16" y="275.60" width="7.6" height="5.5" fill="#cfcfd3"/>
<rect x="206.78" y="275.60" width="7.6" height="5.5" fill="#cfcfd3"/>
<rect x="215.40" y="275.60" width="7.6" height="5.5" fill="#cfcfd3"/>
<rect x="224.02" y="275.60" width="7.6" height="5.5" fill="#cfcfd3"/>
<rect x="232.64" y="275.60" width="7.6" height="5.5" fill="#cfcfd3"/>
<rect x="241.26" y="275.60" width="7.6" height="5.5" fill="#cfcfd3"/>
<rect x="249.88" y="275.60" width="7.6" height="5.5" fill="#cfcfd3"/>
<rect x="258.50" y="275.60" width="7.6" height="5.5" fill="#cfcfd3"/>
<rect x="267.12" y="275.60" width="7.6" height="5.5" fill="#cfcfd3"/>
<rect x="275.74" y="275.60" width="7.6" height="5.5" fill="#cfcfd3"/>
<rect x="284.36" y="275.60" width="7.6" height="5.5" fill="#cfcfd3"/>
<rect x="292.98" y="275.60" width="7.6" height="5.5" fill="#cfcfd3"/>
<rect x="301.60" y="275.60" width="7.6" height="5.5" fill="#cfcfd3"/>
<rect x="310.22" y="275.60" width="7.6" height="5.5" fill="#cfcfd3"/>
<rect x="318.84" y="275.60" width="7.6" height="5.5" fill="#cfcfd3"/>
<rect x="327.46" y="275.60" width="7.6" height="5.5" fill="#cfcfd3"/>
<rect x="336.08" y="275.60" width="7.6" height="5.5" fill="#cfcfd3"/>
<rect x="344.70" y="275.60" width="7.6" height="5.5" fill="#cfcfd3"/>
<rect x="353.32" y="275.60" width="7.6" height="5.5" fill="#cfcfd3"/>
<rect x="361.94" y="275.60" width="7.6" height="5.5" fill="#cfcfd3"/>
<rect x="370.56" y="275.60" width="7.6" height="5.5" fill="#cfcfd3"/>
<rect x="379.18" y="275.60" width="7.6" height="5.5" fill="#cfcfd3"/>
<rect x="387.80" y="275.60" width="7.6" height="5.5" fill="#cfcfd3"/>
<rect x="396.42" y="275.60" width="7.6" height="5.5" fill="#cfcfd3"/>
<rect x="405.04" y="275.60" width="7.6" height="5.5" fill="#cfcfd3"/>
<rect x="413.66" y="275.60" width="7.6" height="5.5" fill="#cfcfd3"/>
<rect x="422.28" y="275.60" width="7.6" height="5.5" fill="#cfcfd3"/>
<text x="39.2" y="69.10" transform="rotate(0.15 39.2 69.10)" font-size="6" text-anchor="end" fill="#111" stroke="#111" stroke-width="0.12">Age</text>
<text x="39.2" y="75.50" transform="rotate(0.15 39.2 75.50)" font-size="6" text-anchor="end" fill="#111" stroke="#111" stroke-width="0.12">Gender</text>
<text x="39.2" y="81.90" transform="rotate(0.15 39.2 81.90)" font-size="6" text-anchor="end" fill="#111" stroke="#111" stroke-width="0.12">Overlapping</text>
<text x="39.2" y="88.30" transform="rotate(0.15 39.2 88.30)" font-size="6" text-anchor="end" fill="#111" stroke="#111" stroke-width="0.12">Clonality</text>
<text x="39.2" y="94.70" transform="rotate(0.15 39.2 94.70)" font-size="6" text-anchor="end" fill="#111" stroke="#111" stroke-width="0.12">Trisomy 3</text>
<text x="39.2" y="101.10" transform="rotate(0.15 39.2 101.10)" font-size="6" text-anchor="end" fill="#111" stroke="#111" stroke-width="0.12">Trisomy 18</text>
<text x="39.2" y="107.50" transform="rotate(0.15 39.2 107.50)" font-size="6" text-anchor="end" fill="#111" stroke="#111" stroke-width="0.12">1p36</text>
<text x="39.2" y="113.90" transform="rotate(0.15 39.2 113.90)" font-size="6" text-anchor="end" fill="#111" stroke="#111" stroke-width="0.12" font-style="italic">TNFRSF14</text>
<text x="39.2" y="120.30" transform="rotate(0.15 39.2 120.30)" font-size="6" text-anchor="end" fill="#111" stroke="#111" stroke-width="0.12" font-style="italic">MAP2K1</text>
<text x="39.2" y="126.70" transform="rotate(0.15 39.2 126.70)" font-size="6" text-anchor="end" fill="#111" stroke="#111" stroke-width="0.12" font-style="italic">IRF8</text>
<text x="39.2" y="133.10" transform="rotate(0.15 39.2 133.10)" font-size="6" text-anchor="end" fill="#111" stroke="#111" stroke-width="0.12" font-style="italic">EZH2</text>
<text x="39.2" y="139.50" transform="rotate(0.15 39.2 139.50)" font-size="6" text-anchor="end" fill="#111" stroke="#111" stroke-width="0.12" font-style="italic">FOXO1</text>
<text x="39.2" y="145.90" transform="rotate(0.15 39.2 145.90)" font-size="6" text-anchor="end" fill="#111" stroke="#111" stroke-width="0.12" font-style="italic">GNA13</text>
<text x="39.2" y="152.30" transform="rotate(0.15 39.2 152.30)" font-size="6" text-anchor="end" fill="#111" stroke="#111" stroke-width="0.12" font-style="italic">HIST1H1C</text>
<text x="39.2" y="158.70" transform="rotate(0.15 39.2 158.70)" font-size="6" text-anchor="end" fill="#111" stroke="#111" stroke-width="0.12" font-style="italic">HIST1H1D</text>
<text x="39.2" y="165.10" transform="rotate(0.15 39.2 165.10)" font-size="6" text-anchor="end" fill="#111" stroke="#111" stroke-width="0.12" font-style="italic">EP300</text>
<text x="39.2" y="171.50" transform="rotate(0.15 39.2 171.50)" font-size="6" text-anchor="end" fill="#111" stroke="#111" stroke-width="0.12" font-style="italic">MEF2</text>
<text x="39.2" y="177.90" transform="rotate(0.15 39.2 177.90)" font-size="6" text-anchor="end" fill="#111" stroke="#111" stroke-width="0.12" font-style="italic">KMT2D</text>
<text x="39.2" y="184.30" transform="rotate(0.15 39.2 184.30)" font-size="6" text-anchor="end" fill="#111" stroke="#111" stroke-width="0.12" font-style="italic">CREBBP</text>
<text x="39.2" y="190.70" transform="rotate(0.15 39.2 190.70)" font-size="6" text-anchor="end" fill="#111" stroke="#111" stroke-width="0.12" font-style="italic">HIST1H1B</text>
<text x="39.2" y="197.10" transform="rotate(0.15 39.2 197.10)" font-size="6" text-anchor="end" fill="#111" stroke="#111" stroke-width="0.12" font-style="italic">HIST1H1E</text>
<text x="39.2" y="203.50" transform="rotate(0.15 39.2 203.50)" font-size="6" text-anchor="end" fill="#111" stroke="#111" stroke-width="0.12" font-style="italic">TNFAIP3</text>
<text x="39.2" y="209.90" transform="rotate(0.15 39.2 209.90)" font-size="6" text-anchor="end" fill="#111" stroke="#111" stroke-width="0.12" font-style="italic">STAT6</text>
<text x="39.2" y="216.30" transform="rotate(0.15 39.2 216.30)" font-size="6" text-anchor="end" fill="#111" stroke="#111" stroke-width="0.12" font-style="italic">SOCS1</text>
<text x="39.2" y="222.70" transform="rotate(0.15 39.2 222.70)" font-size="6" text-anchor="end" fill="#111" stroke="#111" stroke-width="0.12" font-style="italic">XPO1</text>
<text x="39.2" y="229.10" transform="rotate(0.15 39.2 229.10)" font-size="6" text-anchor="end" fill="#111" stroke="#111" stroke-width="0.12" font-style="italic">NOTCH1</text>
<text x="39.2" y="235.50" transform="rotate(0.15 39.2 235.50)" font-size="6" text-anchor="end" fill="#111" stroke="#111" stroke-width="0.12" font-style="italic">MYD88</text>
<text x="39.2" y="241.90" transform="rotate(0.15 39.2 241.90)" font-size="6" text-anchor="end" fill="#111" stroke="#111" stroke-width="0.12" font-style="italic">NOTCH2</text>
<text x="39.2" y="248.30" transform="rotate(0.15 39.2 248.30)" font-size="6" text-anchor="end" fill="#111" stroke="#111" stroke-width="0.12" font-style="italic">NOTCH3</text>
<text x="39.2" y="254.70" transform="rotate(0.15 39.2 254.70)" font-size="6" text-anchor="end" fill="#111" stroke="#111" stroke-width="0.12" font-style="italic">KLF2</text>
<text x="39.2" y="261.10" transform="rotate(0.15 39.2 261.10)" font-size="6" text-anchor="end" fill="#111" stroke="#111" stroke-width="0.12" font-style="italic">PTPRD</text>
<text x="39.2" y="267.50" transform="rotate(0.15 39.2 267.50)" font-size="6" text-anchor="end" fill="#111" stroke="#111" stroke-width="0.12" font-style="italic">TBL1XR1</text>
<text x="39.2" y="273.90" transform="rotate(0.15 39.2 273.90)" font-size="6" text-anchor="end" fill="#111" stroke="#111" stroke-width="0.12" font-style="italic">TET2</text>
<text x="39.2" y="280.30" transform="rotate(0.15 39.2 280.30)" font-size="6" text-anchor="end" fill="#111" stroke="#111" stroke-width="0.12" font-style="italic">BRAF</text>
<text transform="translate(48.70,288.9) rotate(-89.85)" font-size="5.3" text-anchor="start" fill="#222" stroke="#222" stroke-width="0.05">1</text>
<text transform="translate(57.32,288.9) rotate(-89.85)" font-size="5.3" text-anchor="start" fill="#222" stroke="#222" stroke-width="0.05">2</text>
<text transform="translate(65.94,288.9) rotate(-89.85)" font-size="5.3" text-anchor="start" fill="#222" stroke="#222" stroke-width="0.05">3</text>
<text transform="translate(74.56,288.9) rotate(-89.85)" font-size="5.3" text-anchor="start" fill="#222" stroke="#222" stroke-width="0.05">4</text>
<text transform="translate(83.18,288.9) rotate(-89.85)" font-size="5.3" text-anchor="start" fill="#222" stroke="#222" stroke-width="0.05">5</text>
<text transform="translate(91.80,288.9) rotate(-89.85)" font-size="5.3" text-anchor="start" fill="#222" stroke="#222" stroke-width="0.05">6</text>
<text transform="translate(100.42,288.9) rotate(-89.85)" font-size="5.3" text-anchor="start" fill="#222" stroke="#222" stroke-width="0.05">8</text>
<text transform="translate(109.04,288.9) rotate(-89.85)" font-size="5.3" text-anchor="start" fill="#222" stroke="#222" stroke-width="0.05">9</text>
<text transform="translate(117.66,288.9) rotate(-89.85)" font-size="5.3" text-anchor="start" fill="#222" stroke="#222" stroke-width="0.05">10</text>
<text transform="translate(126.28,288.9) rotate(-89.85)" font-size="5.3" text-anchor="start" fill="#222" stroke="#222" stroke-width="0.05">11</text>
<text transform="translate(134.90,288.9) rotate(-89.85)" font-size="5.3" text-anchor="start" fill="#222" stroke="#222" stroke-width="0.05">12</text>
<text transform="translate(143.52,288.9) rotate(-89.85)" font-size="5.3" text-anchor="start" fill="#222" stroke="#222" stroke-width="0.05">13</text>
<text transform="translate(152.14,288.9) rotate(-89.85)" font-size="5.3" text-anchor="start" fill="#222" stroke="#222" stroke-width="0.05">14</text>
<text transform="translate(160.76,288.9) rotate(-89.85)" font-size="5.3" text-anchor="start" fill="#222" stroke="#222" stroke-width="0.05">15</text>
<text transform="translate(169.38,288.9) rotate(-89.85)" font-size="5.3" text-anchor="start" fill="#222" stroke="#222" stroke-width="0.05">17</text>
<text transform="translate(178.00,288.9) rotate(-89.85)" font-size="5.3" text-anchor="start" fill="#222" stroke="#222" stroke-width="0.05">19</text>
<text transform="translate(186.62,288.9) rotate(-89.85)" font-size="5.3" text-anchor="start" fill="#222" stroke="#222" stroke-width="0.05">21</text>
<text transform="translate(195.24,288.9) rotate(-89.85)" font-size="5.3" text-anchor="start" fill="#222" stroke="#222" stroke-width="0.05">23</text>
<text transform="translate(203.86,288.9) rotate(-89.85)" font-size="5.3" text-anchor="start" fill="#222" stroke="#222" stroke-width="0.05">25</text>
<text transform="translate(212.48,288.9) rotate(-89.85)" font-size="5.3" text-anchor="start" fill="#222" stroke="#222" stroke-width="0.05">27</text>
<text transform="translate(221.10,288.9) rotate(-89.85)" font-size="5.3" text-anchor="start" fill="#222" stroke="#222" stroke-width="0.05">28</text>
<text transform="translate(229.72,288.9) rotate(-89.85)" font-size="5.3" text-anchor="start" fill="#222" stroke="#222" stroke-width="0.05">29</text>
<text transform="translate(238.34,288.9) rotate(-89.85)" font-size="5.3" text-anchor="start" fill="#222" stroke="#222" stroke-width="0.05">31</text>
<text transform="translate(246.96,288.9) rotate(-89.85)" font-size="5.3" text-anchor="start" fill="#222" stroke="#222" stroke-width="0.05">34</text>
<text transform="translate(255.58,288.9) rotate(-89.85)" font-size="5.3" text-anchor="start" fill="#222" stroke="#222" stroke-width="0.05">35</text>
<text transform="translate(264.20,288.9) rotate(-89.85)" font-size="5.3" text-anchor="start" fill="#222" stroke="#222" stroke-width="0.05">36</text>
<text transform="translate(272.82,288.9) rotate(-89.85)" font-size="5.3" text-anchor="start" fill="#222" stroke="#222" stroke-width="0.05">37</text>
<text transform="translate(281.44,288.9) rotate(-89.85)" font-size="5.3" text-anchor="start" fill="#222" stroke="#222" stroke-width="0.05">38</text>
<text transform="translate(290.06,288.9) rotate(-89.85)" font-size="5.3" text-anchor="start" fill="#222" stroke="#222" stroke-width="0.05">39</text>
<text transform="translate(298.68,288.9) rotate(-89.85)" font-size="5.3" text-anchor="start" fill="#222" stroke="#222" stroke-width="0.05">40</text>
<text transform="translate(307.30,288.9) rotate(-89.85)" font-size="5.3" text-anchor="start" fill="#222" stroke="#222" stroke-width="0.05">41</text>
<text transform="translate(315.92,288.9) rotate(-89.85)" font-size="5.3" text-anchor="start" fill="#222" stroke="#222" stroke-width="0.05">42</text>
<text transform="translate(324.54,288.9) rotate(-89.85)" font-size="5.3" text-anchor="start" fill="#222" stroke="#222" stroke-width="0.05">43</text>
<text transform="translate(333.16,288.9) rotate(-89.85)" font-size="5.3" text-anchor="start" fill="#222" stroke="#222" stroke-width="0.05">44</text>
<text transform="translate(341.78,288.9) rotate(-89.85)" font-size="5.3" text-anchor="start" fill="#222" stroke="#222" stroke-width="0.05">45</text>
<text transform="translate(350.40,288.9) rotate(-89.85)" font-size="5.3" text-anchor="start" fill="#222" stroke="#222" stroke-width="0.05">46</text>
<text transform="translate(359.02,288.9) rotate(-89.85)" font-size="5.3" text-anchor="start" fill="#222" stroke="#222" stroke-width="0.05">47</text>
<text transform="translate(367.64,288.9) rotate(-89.85)" font-size="5.3" text-anchor="start" fill="#222" stroke="#222" stroke-width="0.05">48</text>
<text transform="translate(376.26,288.9) rotate(-89.85)" font-size="5.3" text-anchor="start" fill="#222" stroke="#222" stroke-width="0.05">49</text>
<text transform="translate(384.88,288.9) rotate(-89.85)" font-size="5.3" text-anchor="start" fill="#222" stroke="#222" stroke-width="0.05">50</text>
<text transform="translate(393.50,288.9) rotate(-89.85)" font-size="5.3" text-anchor="start" fill="#222" stroke="#222" stroke-width="0.05">51</text>
<text transform="translate(402.12,288.9) rotate(-89.85)" font-size="5.3" text-anchor="start" fill="#222" stroke="#222" stroke-width="0.05">52</text>
<text transform="translate(410.74,288.9) rotate(-89.85)" font-size="5.3" text-anchor="start" fill="#222" stroke="#222" stroke-width="0.05">54</text>
<text transform="translate(419.36,288.9) rotate(-89.85)" font-size="5.3" text-anchor="start" fill="#222" stroke="#222" stroke-width="0.05">55</text>
<text transform="translate(427.98,288.9) rotate(-89.85)" font-size="5.3" text-anchor="start" fill="#222" stroke="#222" stroke-width="0.05">58</text>
<rect x="43.30" y="50.10" width="7.0" height="1.90" fill="#4a586d" stroke="#24344e" stroke-width="0.6"/>
<rect x="51.92" y="50.10" width="7.0" height="1.90" fill="#4a586d" stroke="#24344e" stroke-width="0.6"/>
<rect x="60.54" y="43.50" width="7.0" height="8.50" fill="#4a586d" stroke="#24344e" stroke-width="0.6"/>
<rect x="69.16" y="47.90" width="7.0" height="4.10" fill="#4a586d" stroke="#24344e" stroke-width="0.6"/>
<rect x="103.64" y="50.10" width="7.0" height="1.90" fill="#4a586d" stroke="#24344e" stroke-width="0.6"/>
<rect x="112.26" y="50.10" width="7.0" height="1.90" fill="#4a586d" stroke="#24344e" stroke-width="0.6"/>
<rect x="120.88" y="36.90" width="7.0" height="15.10" fill="#4a586d" stroke="#24344e" stroke-width="0.6"/>
<rect x="129.50" y="50.10" width="7.0" height="1.90" fill="#4a586d" stroke="#24344e" stroke-width="0.6"/>
<rect x="138.12" y="47.90" width="7.0" height="4.10" fill="#4a586d" stroke="#24344e" stroke-width="0.6"/>
<rect x="146.74" y="50.10" width="7.0" height="1.90" fill="#4a586d" stroke="#24344e" stroke-width="0.6"/>
<rect x="155.36" y="47.90" width="7.0" height="4.10" fill="#4a586d" stroke="#24344e" stroke-width="0.6"/>
<rect x="189.84" y="50.10" width="7.0" height="1.90" fill="#4a586d" stroke="#24344e" stroke-width="0.6"/>
<rect x="232.94" y="50.10" width="7.0" height="1.90" fill="#4a586d" stroke="#24344e" stroke-width="0.6"/>
<rect x="258.80" y="13.25" width="7.0" height="38.75" fill="#4a586d" stroke="#24344e" stroke-width="0.6"/>
<rect x="319.14" y="47.90" width="7.0" height="4.10" fill="#4a586d" stroke="#24344e" stroke-width="0.6"/>
<rect x="327.76" y="50.10" width="7.0" height="1.90" fill="#4a586d" stroke="#24344e" stroke-width="0.6"/>
<rect x="362.24" y="47.90" width="7.0" height="4.10" fill="#4a586d" stroke="#24344e" stroke-width="0.6"/>
<rect x="396.72" y="50.10" width="7.0" height="1.90" fill="#4a586d" stroke="#24344e" stroke-width="0.6"/>
<rect x="405.34" y="50.10" width="7.0" height="1.90" fill="#4a586d" stroke="#24344e" stroke-width="0.6"/>
<rect x="413.96" y="45.70" width="7.0" height="6.30" fill="#4a586d" stroke="#24344e" stroke-width="0.6"/>
<rect x="40.6" y="7.5" width="1.3" height="45.2" fill="#111"/>
<rect x="40.6" y="51.3" width="390.1" height="1.3" fill="#111"/>
<rect x="38.1" y="51.45" width="2.8" height="1.1" fill="#111"/>
<text x="35.7" y="53.80" transform="rotate(0.15 35.7 53.80)" font-size="5.1" text-anchor="end" fill="#222" stroke="#222" stroke-width="0.15">0</text>
<rect x="38.1" y="31.65" width="2.8" height="1.1" fill="#111"/>
<text x="35.7" y="34.00" transform="rotate(0.15 35.7 34.00)" font-size="5.1" text-anchor="end" fill="#222" stroke="#222" stroke-width="0.15">9</text>
<rect x="38.1" y="11.85" width="2.8" height="1.1" fill="#111"/>
<text x="35.7" y="14.20" transform="rotate(0.15 35.7 14.20)" font-size="5.1" text-anchor="end" fill="#222" stroke="#222" stroke-width="0.15">18</text>
<text transform="translate(21.8,30.2) rotate(-89.85) scale(0.655,1)" font-size="9.4" text-anchor="middle" fill="#111" stroke="#111" stroke-width="0.25">CNA number</text>
<text x="391.60" y="49.7" transform="rotate(0.15 391 49.7)" font-size="5.4" text-anchor="middle" fill="#222">N/A</text>
<rect x="437.0" y="65.30" width="70.38" height="3.60" fill="#cfcfd3"/>
<rect x="437.00" y="65.30" width="20.33" height="3.60" fill="#124e86"/>
<rect x="437.0" y="71.70" width="70.38" height="3.60" fill="#cfcfd3"/>
<rect x="437.00" y="71.70" width="7.19" height="3.60" fill="#124e86"/>
<rect x="437.0" y="78.10" width="70.38" height="3.60" fill="#cfcfd3"/>
<rect x="437.00" y="78.10" width="48.48" height="3.60" fill="#124e86"/>
<rect x="437.0" y="84.50" width="68.82" height="3.60" fill="#cfcfd3"/>
<rect x="437.00" y="84.50" width="68.82" height="3.60" fill="#124e86"/>
<rect x="437.0" y="90.90" width="68.82" height="3.60" fill="#cfcfd3"/>
<rect x="437.00" y="90.90" width="1.56" height="3.60" fill="#124e86"/>
<rect x="437.0" y="97.30" width="68.82" height="3.60" fill="#cfcfd3"/>
<rect x="437.00" y="97.30" width="1.56" height="3.60" fill="#124e86"/>
<rect x="437.0" y="103.70" width="68.82" height="3.60" fill="#cfcfd3"/>
<rect x="437.0" y="103.70" width="6.26" height="3.60" fill="#f5b81c"/>
<rect x="443.26" y="103.70" width="1.56" height="3.60" fill="#c8102e"/>
<rect x="437.0" y="110.10" width="55.21" height="3.60" fill="#cfcfd3"/>
<rect x="437.00" y="110.10" width="20.33" height="3.60" fill="#124e86"/>
<rect x="437.0" y="116.50" width="70.38" height="3.60" fill="#cfcfd3"/>
<rect x="437.00" y="116.50" width="29.72" height="3.60" fill="#124e86"/>
<rect x="437.0" y="122.90" width="53.18" height="3.60" fill="#cfcfd3"/>
<rect x="437.00" y="122.90" width="18.77" height="3.60" fill="#124e86"/>
<rect x="437.0" y="129.30" width="48.48" height="3.60" fill="#cfcfd3"/>
<rect x="437.00" y="129.30" width="3.13" height="3.60" fill="#124e86"/>
<rect x="437.0" y="135.70" width="48.48" height="3.60" fill="#cfcfd3"/>
<rect x="437.00" y="135.70" width="1.56" height="3.60" fill="#124e86"/>
<rect x="437.0" y="142.10" width="48.48" height="3.60" fill="#cfcfd3"/>
<rect x="437.00" y="142.10" width="1.56" height="3.60" fill="#124e86"/>
<rect x="437.0" y="148.50" width="48.48" height="3.60" fill="#cfcfd3"/>
<rect x="437.00" y="148.50" width="1.56" height="3.60" fill="#124e86"/>
<rect x="437.0" y="154.90" width="48.48" height="3.60" fill="#cfcfd3"/>
<rect x="437.00" y="154.90" width="1.56" height="3.60" fill="#124e86"/>
<rect x="437.0" y="161.30" width="48.48" height="3.60" fill="#cfcfd3"/>
<rect x="437.0" y="167.70" width="48.48" height="3.60" fill="#cfcfd3"/>
<rect x="437.0" y="174.10" width="53.96" height="3.60" fill="#cfcfd3"/>
<rect x="437.0" y="180.50" width="48.48" height="3.60" fill="#cfcfd3"/>
<rect x="437.0" y="186.90" width="48.48" height="3.60" fill="#cfcfd3"/>
<rect x="437.0" y="193.30" width="48.48" height="3.60" fill="#cfcfd3"/>
<rect x="437.0" y="199.70" width="59.43" height="3.60" fill="#cfcfd3"/>
<rect x="437.0" y="206.10" width="59.43" height="3.60" fill="#cfcfd3"/>
<rect x="437.0" y="212.50" width="59.43" height="3.60" fill="#cfcfd3"/>
<rect x="437.0" y="218.90" width="59.43" height="3.60" fill="#cfcfd3"/>
<rect x="437.0" y="225.30" width="59.43" height="3.60" fill="#cfcfd3"/>
<rect x="437.0" y="231.70" width="59.43" height="3.60" fill="#cfcfd3"/>
<rect x="437.0" y="238.10" width="59.43" height="3.60" fill="#cfcfd3"/>
<rect x="437.0" y="244.50" width="67.25" height="3.60" fill="#cfcfd3"/>
<rect x="437.0" y="250.90" width="67.25" height="3.60" fill="#cfcfd3"/>
<rect x="437.0" y="257.30" width="67.25" height="3.60" fill="#cfcfd3"/>
<rect x="437.0" y="263.70" width="67.25" height="3.60" fill="#cfcfd3"/>
<rect x="437.0" y="270.10" width="67.25" height="3.60" fill="#cfcfd3"/>
<rect x="437.0" y="276.50" width="67.25" height="3.60" fill="#cfcfd3"/>
<rect x="436.1" y="63.2" width="1.1" height="222.9" fill="#111"/>
<rect x="436.1" y="285" width="76.8" height="1.1" fill="#111"/>
<rect x="436.55" y="286" width="0.9" height="2.2" fill="#111"/>
<text x="437.00" y="296" transform="rotate(0.15 437.00 296)" font-size="5.2" text-anchor="middle" fill="#222" stroke="#222" stroke-width="0.15">0</text>
<rect x="470.96" y="286" width="0.9" height="2.2" fill="#111"/>
<text x="471.41" y="296" transform="rotate(0.15 471.41 296)" font-size="5.2" text-anchor="middle" fill="#222" stroke="#222" stroke-width="0.15">22</text>
<rect x="506.93" y="286" width="0.9" height="2.2" fill="#111"/>
<text x="507.38" y="296" transform="rotate(0.15 507.38 296)" font-size="5.2" text-anchor="middle" fill="#222" stroke="#222" stroke-width="0.15">45</text>
<text transform="translate(474.3,308) rotate(0.15) scale(0.73,1)" font-size="8.6" text-anchor="middle" fill="#111" stroke="#111" stroke-width="0.25">Frequency (n)</text>
<text x="221.5" y="312" transform="rotate(0.15 221.5 312)" font-size="6.9" fill="#111" stroke="#111" stroke-width="0.1">Age</text>
<rect x="220.5" y="319.5" width="5" height="5" fill="#cfcfd3"/>
<text x="228.8" y="324.3" transform="rotate(0.15 228.8 324.3)" font-size="6.9" fill="#111" stroke="#111" stroke-width="0.1">≤18y</text>
<rect x="220.5" y="329.0" width="5" height="5" fill="#124e86"/>
<text x="228.8" y="333.8" transform="rotate(0.15 228.8 333.8)" font-size="6.9" fill="#111" stroke="#111" stroke-width="0.1">&gt;18y</text>
<text x="254.8" y="312" transform="rotate(0.15 254.8 312)" font-size="6.9" fill="#111" stroke="#111" stroke-width="0.1">Gender</text>
<rect x="253.8" y="319.5" width="5" height="5" fill="#cfcfd3"/>
<text x="261.8" y="324.3" transform="rotate(0.15 261.8 324.3)" font-size="6.9" fill="#111" stroke="#111" stroke-width="0.1">Male</text>
<rect x="253.8" y="329.0" width="5" height="5" fill="#124e86"/>
<text x="261.8" y="333.8" transform="rotate(0.15 261.8 333.8)" font-size="6.9" fill="#111" stroke="#111" stroke-width="0.1">Female</text>
<text x="292.5" y="304.2" transform="rotate(0.15 292.5 304.2)" font-size="6.9" fill="#111" stroke="#111" stroke-width="0.1">Overlapping features</text>
<text x="292.5" y="312" transform="rotate(0.15 292.5 312)" font-size="6.9" fill="#111" stroke="#111" stroke-width="0.1">between PNMZL and PTFL</text>
<rect x="293.2" y="319.5" width="5" height="5" fill="#cfcfd3"/>
<text x="301.3" y="324.3" transform="rotate(0.15 301.3 324.3)" font-size="6.9" fill="#111" stroke="#111" stroke-width="0.1">No</text>
<rect x="293.2" y="329.0" width="5" height="5" fill="#124e86"/>
<text x="301.3" y="333.8" transform="rotate(0.15 301.3 333.8)" font-size="6.9" fill="#111" stroke="#111" stroke-width="0.1">Yes</text>
<text x="388.8" y="312" transform="rotate(0.15 388.8 312)" font-size="6.9" fill="#111" stroke="#111" stroke-width="0.1">CN</text>
<rect x="387.8" y="319.0" width="5" height="5" fill="#c8102e"/>
<text x="396.8" y="323.8" transform="rotate(0.15 396.8 323.8)" font-size="6.9" fill="#111" stroke="#111" stroke-width="0.1">CN loss</text>
<rect x="387.8" y="328.8" width="5" height="5" fill="#124e86"/>
<text x="396.8" y="333.6" transform="rotate(0.15 396.8 333.6)" font-size="6.9" fill="#111" stroke="#111" stroke-width="0.1">CN gain</text>
<rect x="387.8" y="338.5" width="5" height="5" fill="#f5b81c"/>
<text x="396.8" y="343.3" transform="rotate(0.15 396.8 343.3)" font-size="6.9" fill="#111" stroke="#111" stroke-width="0.1">CNN-LOH</text>
<rect x="0" y="0" width="520" height="1.3" fill="#000"/>
<rect x="0" y="349.6" width="520" height="1.4" fill="#000"/>
<rect x="0" y="0" width="1.4" height="351" fill="#000"/>
<rect x="518.4" y="0" width="1.6" height="351" fill="#000"/>
</svg>
</body></html>
